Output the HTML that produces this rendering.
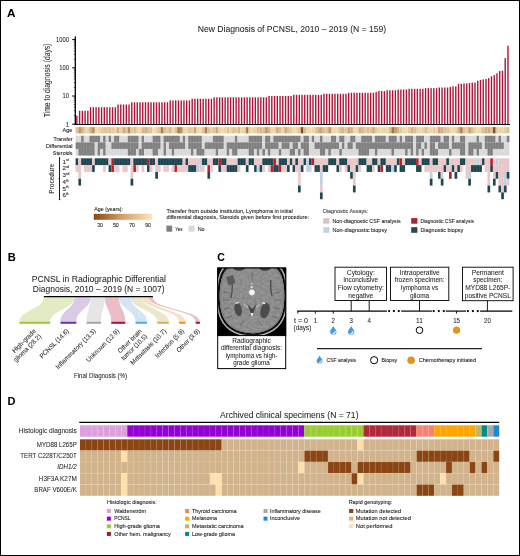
<!DOCTYPE html>
<html><head><meta charset="utf-8"><title>Figure</title>
<style>
html,body{margin:0;padding:0;background:#fff;}
body{width:520px;height:556px;overflow:hidden;}
.frame{position:absolute;left:0;top:0;width:518px;height:554px;border:1px solid #000;}
svg{position:absolute;left:0;top:0;font-family:"Liberation Sans", sans-serif;will-change:transform;}

</style></head><body>
<div class="frame"></div>
<svg width="520" height="556" viewBox="0 0 520 556" fill="#231f20">
<text x="6.9" y="16.9" font-size="10.8" textLength="8.5" lengthAdjust="spacingAndGlyphs" font-weight="bold" fill="#000" stroke="#000" stroke-width="0.06">A</text>
<text x="197.8" y="32" font-size="8.9" textLength="188.4" lengthAdjust="spacingAndGlyphs" stroke="#231f20" stroke-width="0.06">New Diagnosis of PCNSL, 2010 – 2019 (N = 159)</text>
<line x1="75.3" y1="36.4" x2="75.3" y2="124.9" stroke="#000" stroke-width="1.3"/>
<line x1="72.2" y1="124.2" x2="75.3" y2="124.2" stroke="#000" stroke-width="1"/>
<line x1="73.8" y1="115.71" x2="75.3" y2="115.71" stroke="#000" stroke-width="0.6"/>
<line x1="73.8" y1="110.75" x2="75.3" y2="110.75" stroke="#000" stroke-width="0.6"/>
<line x1="73.8" y1="107.22" x2="75.3" y2="107.22" stroke="#000" stroke-width="0.6"/>
<line x1="73.8" y1="104.49" x2="75.3" y2="104.49" stroke="#000" stroke-width="0.6"/>
<line x1="73.8" y1="102.26" x2="75.3" y2="102.26" stroke="#000" stroke-width="0.6"/>
<line x1="73.8" y1="100.37" x2="75.3" y2="100.37" stroke="#000" stroke-width="0.6"/>
<line x1="73.8" y1="98.73" x2="75.3" y2="98.73" stroke="#000" stroke-width="0.6"/>
<line x1="73.8" y1="97.29" x2="75.3" y2="97.29" stroke="#000" stroke-width="0.6"/>
<line x1="72.2" y1="96" x2="75.3" y2="96" stroke="#000" stroke-width="1"/>
<line x1="73.8" y1="87.51" x2="75.3" y2="87.51" stroke="#000" stroke-width="0.6"/>
<line x1="73.8" y1="82.55" x2="75.3" y2="82.55" stroke="#000" stroke-width="0.6"/>
<line x1="73.8" y1="79.02" x2="75.3" y2="79.02" stroke="#000" stroke-width="0.6"/>
<line x1="73.8" y1="76.29" x2="75.3" y2="76.29" stroke="#000" stroke-width="0.6"/>
<line x1="73.8" y1="74.06" x2="75.3" y2="74.06" stroke="#000" stroke-width="0.6"/>
<line x1="73.8" y1="72.17" x2="75.3" y2="72.17" stroke="#000" stroke-width="0.6"/>
<line x1="73.8" y1="70.53" x2="75.3" y2="70.53" stroke="#000" stroke-width="0.6"/>
<line x1="73.8" y1="69.09" x2="75.3" y2="69.09" stroke="#000" stroke-width="0.6"/>
<line x1="72.2" y1="67.8" x2="75.3" y2="67.8" stroke="#000" stroke-width="1"/>
<line x1="73.8" y1="59.31" x2="75.3" y2="59.31" stroke="#000" stroke-width="0.6"/>
<line x1="73.8" y1="54.35" x2="75.3" y2="54.35" stroke="#000" stroke-width="0.6"/>
<line x1="73.8" y1="50.82" x2="75.3" y2="50.82" stroke="#000" stroke-width="0.6"/>
<line x1="73.8" y1="48.09" x2="75.3" y2="48.09" stroke="#000" stroke-width="0.6"/>
<line x1="73.8" y1="45.86" x2="75.3" y2="45.86" stroke="#000" stroke-width="0.6"/>
<line x1="73.8" y1="43.97" x2="75.3" y2="43.97" stroke="#000" stroke-width="0.6"/>
<line x1="73.8" y1="42.33" x2="75.3" y2="42.33" stroke="#000" stroke-width="0.6"/>
<line x1="73.8" y1="40.89" x2="75.3" y2="40.89" stroke="#000" stroke-width="0.6"/>
<line x1="72.2" y1="39.6" x2="75.3" y2="39.6" stroke="#000" stroke-width="1"/>
<text x="68.9" y="126.5" font-size="6.6" text-anchor="end" textLength="3.2" lengthAdjust="spacingAndGlyphs" stroke="#231f20" stroke-width="0.06">1</text>
<text x="68.9" y="98.3" font-size="6.6" text-anchor="end" textLength="6.4" lengthAdjust="spacingAndGlyphs" stroke="#231f20" stroke-width="0.06">10</text>
<text x="68.9" y="70.1" font-size="6.6" text-anchor="end" textLength="9.7" lengthAdjust="spacingAndGlyphs" stroke="#231f20" stroke-width="0.06">100</text>
<text x="68.9" y="41.9" font-size="6.6" text-anchor="end" textLength="12.9" lengthAdjust="spacingAndGlyphs" stroke="#231f20" stroke-width="0.06">1000</text>
<text x="49.7" y="117.2" font-size="8.4" textLength="73.7" lengthAdjust="spacingAndGlyphs" stroke="#231f20" stroke-width="0.06" transform="rotate(-90 49.7 117.2)">Time to diagnosis (days)</text>
<rect x="76.15" y="115.71" width="1.4" height="8.49" fill="#ae1439"/>
<rect x="78.9" y="110.75" width="1.4" height="13.45" fill="#ae1439"/>
<rect x="81.64" y="110.75" width="1.4" height="13.45" fill="#ae1439"/>
<rect x="84.39" y="110.75" width="1.4" height="13.45" fill="#ae1439"/>
<rect x="87.13" y="110.75" width="1.4" height="13.45" fill="#ae1439"/>
<rect x="89.88" y="107.22" width="1.4" height="16.98" fill="#ae1439"/>
<rect x="92.63" y="107.22" width="1.4" height="16.98" fill="#ae1439"/>
<rect x="95.37" y="107.22" width="1.4" height="16.98" fill="#ae1439"/>
<rect x="98.12" y="107.22" width="1.4" height="16.98" fill="#ae1439"/>
<rect x="100.86" y="107.22" width="1.4" height="16.98" fill="#ae1439"/>
<rect x="103.61" y="107.22" width="1.4" height="16.98" fill="#ae1439"/>
<rect x="106.35" y="107.22" width="1.4" height="16.98" fill="#ae1439"/>
<rect x="109.1" y="107.22" width="1.4" height="16.98" fill="#ae1439"/>
<rect x="111.85" y="107.22" width="1.4" height="16.98" fill="#ae1439"/>
<rect x="114.59" y="107.22" width="1.4" height="16.98" fill="#ae1439"/>
<rect x="117.34" y="104.49" width="1.4" height="19.71" fill="#ae1439"/>
<rect x="120.08" y="104.49" width="1.4" height="19.71" fill="#ae1439"/>
<rect x="122.83" y="104.49" width="1.4" height="19.71" fill="#ae1439"/>
<rect x="125.58" y="104.49" width="1.4" height="19.71" fill="#ae1439"/>
<rect x="128.32" y="104.49" width="1.4" height="19.71" fill="#ae1439"/>
<rect x="131.07" y="102.26" width="1.4" height="21.94" fill="#ae1439"/>
<rect x="133.81" y="102.26" width="1.4" height="21.94" fill="#ae1439"/>
<rect x="136.56" y="102.26" width="1.4" height="21.94" fill="#ae1439"/>
<rect x="139.31" y="102.26" width="1.4" height="21.94" fill="#ae1439"/>
<rect x="142.05" y="102.26" width="1.4" height="21.94" fill="#ae1439"/>
<rect x="144.8" y="102.26" width="1.4" height="21.94" fill="#ae1439"/>
<rect x="147.54" y="102.26" width="1.4" height="21.94" fill="#ae1439"/>
<rect x="150.29" y="102.26" width="1.4" height="21.94" fill="#ae1439"/>
<rect x="153.04" y="102.26" width="1.4" height="21.94" fill="#ae1439"/>
<rect x="155.78" y="102.26" width="1.4" height="21.94" fill="#ae1439"/>
<rect x="158.53" y="102.26" width="1.4" height="21.94" fill="#ae1439"/>
<rect x="161.27" y="102.26" width="1.4" height="21.94" fill="#ae1439"/>
<rect x="164.02" y="102.26" width="1.4" height="21.94" fill="#ae1439"/>
<rect x="166.76" y="102.26" width="1.4" height="21.94" fill="#ae1439"/>
<rect x="169.51" y="100.37" width="1.4" height="23.83" fill="#ae1439"/>
<rect x="172.26" y="100.37" width="1.4" height="23.83" fill="#ae1439"/>
<rect x="175" y="100.37" width="1.4" height="23.83" fill="#ae1439"/>
<rect x="177.75" y="100.37" width="1.4" height="23.83" fill="#ae1439"/>
<rect x="180.49" y="100.37" width="1.4" height="23.83" fill="#ae1439"/>
<rect x="183.24" y="100.37" width="1.4" height="23.83" fill="#ae1439"/>
<rect x="185.99" y="100.37" width="1.4" height="23.83" fill="#ae1439"/>
<rect x="188.73" y="100.37" width="1.4" height="23.83" fill="#ae1439"/>
<rect x="191.48" y="98.73" width="1.4" height="25.47" fill="#ae1439"/>
<rect x="194.22" y="98.73" width="1.4" height="25.47" fill="#ae1439"/>
<rect x="196.97" y="98.73" width="1.4" height="25.47" fill="#ae1439"/>
<rect x="199.72" y="98.73" width="1.4" height="25.47" fill="#ae1439"/>
<rect x="202.46" y="98.73" width="1.4" height="25.47" fill="#ae1439"/>
<rect x="205.21" y="98.73" width="1.4" height="25.47" fill="#ae1439"/>
<rect x="207.95" y="98.73" width="1.4" height="25.47" fill="#ae1439"/>
<rect x="210.7" y="98.73" width="1.4" height="25.47" fill="#ae1439"/>
<rect x="213.44" y="97.29" width="1.4" height="26.91" fill="#ae1439"/>
<rect x="216.19" y="97.29" width="1.4" height="26.91" fill="#ae1439"/>
<rect x="218.94" y="97.29" width="1.4" height="26.91" fill="#ae1439"/>
<rect x="221.68" y="97.29" width="1.4" height="26.91" fill="#ae1439"/>
<rect x="224.43" y="97.29" width="1.4" height="26.91" fill="#ae1439"/>
<rect x="227.17" y="97.29" width="1.4" height="26.91" fill="#ae1439"/>
<rect x="229.92" y="97.29" width="1.4" height="26.91" fill="#ae1439"/>
<rect x="232.67" y="97.29" width="1.4" height="26.91" fill="#ae1439"/>
<rect x="235.41" y="97.29" width="1.4" height="26.91" fill="#ae1439"/>
<rect x="238.16" y="97.29" width="1.4" height="26.91" fill="#ae1439"/>
<rect x="240.9" y="97.29" width="1.4" height="26.91" fill="#ae1439"/>
<rect x="243.65" y="97.29" width="1.4" height="26.91" fill="#ae1439"/>
<rect x="246.4" y="97.29" width="1.4" height="26.91" fill="#ae1439"/>
<rect x="249.14" y="97.29" width="1.4" height="26.91" fill="#ae1439"/>
<rect x="251.89" y="97.29" width="1.4" height="26.91" fill="#ae1439"/>
<rect x="254.63" y="97.29" width="1.4" height="26.91" fill="#ae1439"/>
<rect x="257.38" y="97.29" width="1.4" height="26.91" fill="#ae1439"/>
<rect x="260.13" y="97.29" width="1.4" height="26.91" fill="#ae1439"/>
<rect x="262.87" y="97.29" width="1.4" height="26.91" fill="#ae1439"/>
<rect x="265.62" y="97.29" width="1.4" height="26.91" fill="#ae1439"/>
<rect x="268.36" y="96" width="1.4" height="28.2" fill="#ae1439"/>
<rect x="271.11" y="96" width="1.4" height="28.2" fill="#ae1439"/>
<rect x="273.85" y="96" width="1.4" height="28.2" fill="#ae1439"/>
<rect x="276.6" y="96" width="1.4" height="28.2" fill="#ae1439"/>
<rect x="279.35" y="96" width="1.4" height="28.2" fill="#ae1439"/>
<rect x="282.09" y="96" width="1.4" height="28.2" fill="#ae1439"/>
<rect x="284.84" y="96" width="1.4" height="28.2" fill="#ae1439"/>
<rect x="287.58" y="96" width="1.4" height="28.2" fill="#ae1439"/>
<rect x="290.33" y="96" width="1.4" height="28.2" fill="#ae1439"/>
<rect x="293.08" y="94.83" width="1.4" height="29.37" fill="#ae1439"/>
<rect x="295.82" y="94.83" width="1.4" height="29.37" fill="#ae1439"/>
<rect x="298.57" y="94.83" width="1.4" height="29.37" fill="#ae1439"/>
<rect x="301.31" y="94.83" width="1.4" height="29.37" fill="#ae1439"/>
<rect x="304.06" y="94.83" width="1.4" height="29.37" fill="#ae1439"/>
<rect x="306.81" y="94.83" width="1.4" height="29.37" fill="#ae1439"/>
<rect x="309.55" y="94.83" width="1.4" height="29.37" fill="#ae1439"/>
<rect x="312.3" y="94.83" width="1.4" height="29.37" fill="#ae1439"/>
<rect x="315.04" y="94.83" width="1.4" height="29.37" fill="#ae1439"/>
<rect x="317.79" y="94.83" width="1.4" height="29.37" fill="#ae1439"/>
<rect x="320.54" y="94.83" width="1.4" height="29.37" fill="#ae1439"/>
<rect x="323.28" y="93.77" width="1.4" height="30.43" fill="#ae1439"/>
<rect x="326.03" y="93.77" width="1.4" height="30.43" fill="#ae1439"/>
<rect x="328.77" y="93.77" width="1.4" height="30.43" fill="#ae1439"/>
<rect x="331.52" y="93.77" width="1.4" height="30.43" fill="#ae1439"/>
<rect x="334.26" y="93.77" width="1.4" height="30.43" fill="#ae1439"/>
<rect x="337.01" y="93.77" width="1.4" height="30.43" fill="#ae1439"/>
<rect x="339.76" y="93.77" width="1.4" height="30.43" fill="#ae1439"/>
<rect x="342.5" y="93.77" width="1.4" height="30.43" fill="#ae1439"/>
<rect x="345.25" y="93.77" width="1.4" height="30.43" fill="#ae1439"/>
<rect x="347.99" y="92.79" width="1.4" height="31.41" fill="#ae1439"/>
<rect x="350.74" y="92.79" width="1.4" height="31.41" fill="#ae1439"/>
<rect x="353.49" y="92.79" width="1.4" height="31.41" fill="#ae1439"/>
<rect x="356.23" y="92.79" width="1.4" height="31.41" fill="#ae1439"/>
<rect x="358.98" y="92.79" width="1.4" height="31.41" fill="#ae1439"/>
<rect x="361.72" y="92.79" width="1.4" height="31.41" fill="#ae1439"/>
<rect x="364.47" y="92.79" width="1.4" height="31.41" fill="#ae1439"/>
<rect x="367.22" y="92.79" width="1.4" height="31.41" fill="#ae1439"/>
<rect x="369.96" y="92.79" width="1.4" height="31.41" fill="#ae1439"/>
<rect x="372.71" y="92.79" width="1.4" height="31.41" fill="#ae1439"/>
<rect x="375.45" y="91.88" width="1.4" height="32.32" fill="#ae1439"/>
<rect x="378.2" y="91.03" width="1.4" height="33.17" fill="#ae1439"/>
<rect x="380.94" y="91.03" width="1.4" height="33.17" fill="#ae1439"/>
<rect x="383.69" y="91.03" width="1.4" height="33.17" fill="#ae1439"/>
<rect x="386.44" y="90.24" width="1.4" height="33.96" fill="#ae1439"/>
<rect x="389.18" y="90.24" width="1.4" height="33.96" fill="#ae1439"/>
<rect x="391.93" y="90.24" width="1.4" height="33.96" fill="#ae1439"/>
<rect x="394.67" y="90.24" width="1.4" height="33.96" fill="#ae1439"/>
<rect x="397.42" y="89.5" width="1.4" height="34.7" fill="#ae1439"/>
<rect x="400.17" y="89.5" width="1.4" height="34.7" fill="#ae1439"/>
<rect x="402.91" y="89.5" width="1.4" height="34.7" fill="#ae1439"/>
<rect x="405.66" y="89.5" width="1.4" height="34.7" fill="#ae1439"/>
<rect x="408.4" y="88.8" width="1.4" height="35.4" fill="#ae1439"/>
<rect x="411.15" y="88.8" width="1.4" height="35.4" fill="#ae1439"/>
<rect x="413.9" y="88.8" width="1.4" height="35.4" fill="#ae1439"/>
<rect x="416.64" y="88.8" width="1.4" height="35.4" fill="#ae1439"/>
<rect x="419.39" y="88.8" width="1.4" height="35.4" fill="#ae1439"/>
<rect x="422.13" y="88.8" width="1.4" height="35.4" fill="#ae1439"/>
<rect x="424.88" y="88.14" width="1.4" height="36.06" fill="#ae1439"/>
<rect x="427.63" y="88.14" width="1.4" height="36.06" fill="#ae1439"/>
<rect x="430.37" y="88.14" width="1.4" height="36.06" fill="#ae1439"/>
<rect x="433.12" y="88.14" width="1.4" height="36.06" fill="#ae1439"/>
<rect x="435.86" y="88.14" width="1.4" height="36.06" fill="#ae1439"/>
<rect x="438.61" y="87.51" width="1.4" height="36.69" fill="#ae1439"/>
<rect x="441.35" y="87.51" width="1.4" height="36.69" fill="#ae1439"/>
<rect x="444.1" y="87.51" width="1.4" height="36.69" fill="#ae1439"/>
<rect x="446.85" y="87.51" width="1.4" height="36.69" fill="#ae1439"/>
<rect x="449.59" y="86.91" width="1.4" height="37.29" fill="#ae1439"/>
<rect x="452.34" y="86.34" width="1.4" height="37.86" fill="#ae1439"/>
<rect x="455.08" y="86.34" width="1.4" height="37.86" fill="#ae1439"/>
<rect x="457.83" y="83.84" width="1.4" height="40.36" fill="#ae1439"/>
<rect x="460.58" y="83.84" width="1.4" height="40.36" fill="#ae1439"/>
<rect x="463.32" y="83.39" width="1.4" height="40.81" fill="#ae1439"/>
<rect x="466.07" y="83.39" width="1.4" height="40.81" fill="#ae1439"/>
<rect x="468.81" y="82.96" width="1.4" height="41.24" fill="#ae1439"/>
<rect x="471.56" y="82.55" width="1.4" height="41.65" fill="#ae1439"/>
<rect x="474.31" y="82.55" width="1.4" height="41.65" fill="#ae1439"/>
<rect x="477.05" y="80.66" width="1.4" height="43.54" fill="#ae1439"/>
<rect x="479.8" y="79.98" width="1.4" height="44.22" fill="#ae1439"/>
<rect x="482.54" y="79.33" width="1.4" height="44.87" fill="#ae1439"/>
<rect x="485.29" y="79.02" width="1.4" height="45.18" fill="#ae1439"/>
<rect x="488.04" y="78.14" width="1.4" height="46.06" fill="#ae1439"/>
<rect x="490.78" y="76.29" width="1.4" height="47.91" fill="#ae1439"/>
<rect x="493.53" y="75.12" width="1.4" height="49.08" fill="#ae1439"/>
<rect x="496.27" y="73.27" width="1.4" height="50.93" fill="#ae1439"/>
<rect x="499.02" y="71" width="1.4" height="53.2" fill="#ae1439"/>
<rect x="501.76" y="70.69" width="1.4" height="53.51" fill="#ae1439"/>
<rect x="504.51" y="58.14" width="1.4" height="66.06" fill="#ae1439"/>
<rect x="507.26" y="45.71" width="1.4" height="78.49" fill="#ae1439"/>
<line x1="74.6" y1="124.45" x2="510" y2="124.45" stroke="#000" stroke-width="1.1"/>
<rect x="75.6" y="127.1" width="2.8" height="6.3" fill="#e4c090"/>
<rect x="78.35" y="127.1" width="2.8" height="6.3" fill="#c89458"/>
<rect x="81.09" y="127.1" width="2.8" height="6.3" fill="#d8ac7c"/>
<rect x="83.84" y="127.1" width="2.8" height="6.3" fill="#ecd0a0"/>
<rect x="86.58" y="127.1" width="2.8" height="6.3" fill="#ecd0a0"/>
<rect x="89.33" y="127.1" width="2.8" height="6.3" fill="#d8ac7c"/>
<rect x="92.07" y="127.1" width="2.8" height="6.3" fill="#c08850"/>
<rect x="94.82" y="127.1" width="2.8" height="6.3" fill="#f4d8a8"/>
<rect x="97.56" y="127.1" width="2.8" height="6.3" fill="#f0d4a4"/>
<rect x="100.31" y="127.1" width="2.8" height="6.3" fill="#e8c898"/>
<rect x="103.06" y="127.1" width="2.8" height="6.3" fill="#e4c090"/>
<rect x="105.8" y="127.1" width="2.8" height="6.3" fill="#e4c090"/>
<rect x="108.55" y="127.1" width="2.8" height="6.3" fill="#e0bc8c"/>
<rect x="111.29" y="127.1" width="2.8" height="6.3" fill="#e8c898"/>
<rect x="114.04" y="127.1" width="2.8" height="6.3" fill="#ecd0a0"/>
<rect x="116.78" y="127.1" width="2.8" height="6.3" fill="#d8ac7c"/>
<rect x="119.53" y="127.1" width="2.8" height="6.3" fill="#ecd0a0"/>
<rect x="122.28" y="127.1" width="2.8" height="6.3" fill="#d4a878"/>
<rect x="125.02" y="127.1" width="2.8" height="6.3" fill="#e4c090"/>
<rect x="127.77" y="127.1" width="2.8" height="6.3" fill="#c08850"/>
<rect x="130.51" y="127.1" width="2.8" height="6.3" fill="#e8c898"/>
<rect x="133.26" y="127.1" width="2.8" height="6.3" fill="#e0bc8c"/>
<rect x="136" y="127.1" width="2.8" height="6.3" fill="#ecd0a0"/>
<rect x="138.75" y="127.1" width="2.8" height="6.3" fill="#f4d8a8"/>
<rect x="141.49" y="127.1" width="2.8" height="6.3" fill="#dcb484"/>
<rect x="144.24" y="127.1" width="2.8" height="6.3" fill="#d8ac7c"/>
<rect x="146.99" y="127.1" width="2.8" height="6.3" fill="#e0bc8c"/>
<rect x="149.73" y="127.1" width="2.8" height="6.3" fill="#e4c090"/>
<rect x="152.48" y="127.1" width="2.8" height="6.3" fill="#f8dcb0"/>
<rect x="155.22" y="127.1" width="2.8" height="6.3" fill="#ecd0a0"/>
<rect x="157.97" y="127.1" width="2.8" height="6.3" fill="#e4c090"/>
<rect x="160.71" y="127.1" width="2.8" height="6.3" fill="#b87840"/>
<rect x="163.46" y="127.1" width="2.8" height="6.3" fill="#e0bc8c"/>
<rect x="166.2" y="127.1" width="2.8" height="6.3" fill="#e8c898"/>
<rect x="168.95" y="127.1" width="2.8" height="6.3" fill="#dcb484"/>
<rect x="171.7" y="127.1" width="2.8" height="6.3" fill="#f0d4a4"/>
<rect x="174.44" y="127.1" width="2.8" height="6.3" fill="#e0bc8c"/>
<rect x="177.19" y="127.1" width="2.8" height="6.3" fill="#b87840"/>
<rect x="179.93" y="127.1" width="2.8" height="6.3" fill="#c08850"/>
<rect x="182.68" y="127.1" width="2.8" height="6.3" fill="#ecd0a0"/>
<rect x="185.42" y="127.1" width="2.8" height="6.3" fill="#f0d4a4"/>
<rect x="188.17" y="127.1" width="2.8" height="6.3" fill="#e4c090"/>
<rect x="190.92" y="127.1" width="2.8" height="6.3" fill="#ecd0a0"/>
<rect x="193.66" y="127.1" width="2.8" height="6.3" fill="#d0a070"/>
<rect x="196.41" y="127.1" width="2.8" height="6.3" fill="#f0d4a4"/>
<rect x="199.15" y="127.1" width="2.8" height="6.3" fill="#f4d8a8"/>
<rect x="201.9" y="127.1" width="2.8" height="6.3" fill="#e4c090"/>
<rect x="204.64" y="127.1" width="2.8" height="6.3" fill="#b87840"/>
<rect x="207.39" y="127.1" width="2.8" height="6.3" fill="#e0bc8c"/>
<rect x="210.13" y="127.1" width="2.8" height="6.3" fill="#ecd0a0"/>
<rect x="212.88" y="127.1" width="2.8" height="6.3" fill="#e4c090"/>
<rect x="215.63" y="127.1" width="2.8" height="6.3" fill="#d4a878"/>
<rect x="218.37" y="127.1" width="2.8" height="6.3" fill="#ecd0a0"/>
<rect x="221.12" y="127.1" width="2.8" height="6.3" fill="#f4d8a8"/>
<rect x="223.86" y="127.1" width="2.8" height="6.3" fill="#f0d4a4"/>
<rect x="226.61" y="127.1" width="2.8" height="6.3" fill="#e4c090"/>
<rect x="229.35" y="127.1" width="2.8" height="6.3" fill="#ecd0a0"/>
<rect x="232.1" y="127.1" width="2.8" height="6.3" fill="#e0bc8c"/>
<rect x="234.84" y="127.1" width="2.8" height="6.3" fill="#e8c898"/>
<rect x="237.59" y="127.1" width="2.8" height="6.3" fill="#dcb484"/>
<rect x="240.34" y="127.1" width="2.8" height="6.3" fill="#f0d4a4"/>
<rect x="243.08" y="127.1" width="2.8" height="6.3" fill="#ecd0a0"/>
<rect x="245.83" y="127.1" width="2.8" height="6.3" fill="#b87840"/>
<rect x="248.57" y="127.1" width="2.8" height="6.3" fill="#ecd0a0"/>
<rect x="251.32" y="127.1" width="2.8" height="6.3" fill="#f0d4a4"/>
<rect x="254.06" y="127.1" width="2.8" height="6.3" fill="#ecd0a0"/>
<rect x="256.81" y="127.1" width="2.8" height="6.3" fill="#e0bc8c"/>
<rect x="259.56" y="127.1" width="2.8" height="6.3" fill="#dcb484"/>
<rect x="262.3" y="127.1" width="2.8" height="6.3" fill="#e0bc8c"/>
<rect x="265.05" y="127.1" width="2.8" height="6.3" fill="#c89458"/>
<rect x="267.79" y="127.1" width="2.8" height="6.3" fill="#d8ac7c"/>
<rect x="270.54" y="127.1" width="2.8" height="6.3" fill="#f0d4a4"/>
<rect x="273.28" y="127.1" width="2.8" height="6.3" fill="#ecd0a0"/>
<rect x="276.03" y="127.1" width="2.8" height="6.3" fill="#d4a878"/>
<rect x="278.77" y="127.1" width="2.8" height="6.3" fill="#e0bc8c"/>
<rect x="281.52" y="127.1" width="2.8" height="6.3" fill="#ecd0a0"/>
<rect x="284.27" y="127.1" width="2.8" height="6.3" fill="#d4a878"/>
<rect x="287.01" y="127.1" width="2.8" height="6.3" fill="#e0bc8c"/>
<rect x="289.76" y="127.1" width="2.8" height="6.3" fill="#e8c898"/>
<rect x="292.5" y="127.1" width="2.8" height="6.3" fill="#f4d8a8"/>
<rect x="295.25" y="127.1" width="2.8" height="6.3" fill="#f0d4a4"/>
<rect x="297.99" y="127.1" width="2.8" height="6.3" fill="#e8c898"/>
<rect x="300.74" y="127.1" width="2.8" height="6.3" fill="#8c4a1c"/>
<rect x="303.48" y="127.1" width="2.8" height="6.3" fill="#e0bc8c"/>
<rect x="306.23" y="127.1" width="2.8" height="6.3" fill="#f0d4a4"/>
<rect x="308.98" y="127.1" width="2.8" height="6.3" fill="#f4d8a8"/>
<rect x="311.72" y="127.1" width="2.8" height="6.3" fill="#f0d4a4"/>
<rect x="314.47" y="127.1" width="2.8" height="6.3" fill="#e4c090"/>
<rect x="317.21" y="127.1" width="2.8" height="6.3" fill="#d8ac7c"/>
<rect x="319.96" y="127.1" width="2.8" height="6.3" fill="#d0a070"/>
<rect x="322.7" y="127.1" width="2.8" height="6.3" fill="#e0bc8c"/>
<rect x="325.45" y="127.1" width="2.8" height="6.3" fill="#e4c090"/>
<rect x="328.2" y="127.1" width="2.8" height="6.3" fill="#c89458"/>
<rect x="330.94" y="127.1" width="2.8" height="6.3" fill="#ecd0a0"/>
<rect x="333.69" y="127.1" width="2.8" height="6.3" fill="#f4d8a8"/>
<rect x="336.43" y="127.1" width="2.8" height="6.3" fill="#f0d4a4"/>
<rect x="339.18" y="127.1" width="2.8" height="6.3" fill="#e0bc8c"/>
<rect x="341.92" y="127.1" width="2.8" height="6.3" fill="#dcb484"/>
<rect x="344.67" y="127.1" width="2.8" height="6.3" fill="#e8c898"/>
<rect x="347.41" y="127.1" width="2.8" height="6.3" fill="#d0a070"/>
<rect x="350.16" y="127.1" width="2.8" height="6.3" fill="#d8ac7c"/>
<rect x="352.91" y="127.1" width="2.8" height="6.3" fill="#f0d4a4"/>
<rect x="355.65" y="127.1" width="2.8" height="6.3" fill="#f4d8a8"/>
<rect x="358.4" y="127.1" width="2.8" height="6.3" fill="#d8ac7c"/>
<rect x="361.14" y="127.1" width="2.8" height="6.3" fill="#dcb484"/>
<rect x="363.89" y="127.1" width="2.8" height="6.3" fill="#e8c898"/>
<rect x="366.63" y="127.1" width="2.8" height="6.3" fill="#e0bc8c"/>
<rect x="369.38" y="127.1" width="2.8" height="6.3" fill="#e4c090"/>
<rect x="372.12" y="127.1" width="2.8" height="6.3" fill="#d4a878"/>
<rect x="374.87" y="127.1" width="2.8" height="6.3" fill="#e8c898"/>
<rect x="377.62" y="127.1" width="2.8" height="6.3" fill="#f0d4a4"/>
<rect x="380.36" y="127.1" width="2.8" height="6.3" fill="#f4d8a8"/>
<rect x="383.11" y="127.1" width="2.8" height="6.3" fill="#ecd0a0"/>
<rect x="385.85" y="127.1" width="2.8" height="6.3" fill="#f0d4a4"/>
<rect x="388.6" y="127.1" width="2.8" height="6.3" fill="#e0bc8c"/>
<rect x="391.34" y="127.1" width="2.8" height="6.3" fill="#b07038"/>
<rect x="394.09" y="127.1" width="2.8" height="6.3" fill="#c89458"/>
<rect x="396.84" y="127.1" width="2.8" height="6.3" fill="#d8ac7c"/>
<rect x="399.58" y="127.1" width="2.8" height="6.3" fill="#e8c898"/>
<rect x="402.33" y="127.1" width="2.8" height="6.3" fill="#f0d4a4"/>
<rect x="405.07" y="127.1" width="2.8" height="6.3" fill="#f4d8a8"/>
<rect x="407.82" y="127.1" width="2.8" height="6.3" fill="#e8c898"/>
<rect x="410.56" y="127.1" width="2.8" height="6.3" fill="#d8ac7c"/>
<rect x="413.31" y="127.1" width="2.8" height="6.3" fill="#e0bc8c"/>
<rect x="416.05" y="127.1" width="2.8" height="6.3" fill="#ecd0a0"/>
<rect x="418.8" y="127.1" width="2.8" height="6.3" fill="#f0d4a4"/>
<rect x="421.55" y="127.1" width="2.8" height="6.3" fill="#ecd0a0"/>
<rect x="424.29" y="127.1" width="2.8" height="6.3" fill="#e0bc8c"/>
<rect x="427.04" y="127.1" width="2.8" height="6.3" fill="#ecd0a0"/>
<rect x="429.78" y="127.1" width="2.8" height="6.3" fill="#f0d4a4"/>
<rect x="432.53" y="127.1" width="2.8" height="6.3" fill="#e8c898"/>
<rect x="435.27" y="127.1" width="2.8" height="6.3" fill="#ecd0a0"/>
<rect x="438.02" y="127.1" width="2.8" height="6.3" fill="#d0a070"/>
<rect x="440.76" y="127.1" width="2.8" height="6.3" fill="#d8ac7c"/>
<rect x="443.51" y="127.1" width="2.8" height="6.3" fill="#e0bc8c"/>
<rect x="446.26" y="127.1" width="2.8" height="6.3" fill="#e4c090"/>
<rect x="449" y="127.1" width="2.8" height="6.3" fill="#f0d4a4"/>
<rect x="451.75" y="127.1" width="2.8" height="6.3" fill="#f4d8a8"/>
<rect x="454.49" y="127.1" width="2.8" height="6.3" fill="#ecd0a0"/>
<rect x="457.24" y="127.1" width="2.8" height="6.3" fill="#d8ac7c"/>
<rect x="459.98" y="127.1" width="2.8" height="6.3" fill="#b87840"/>
<rect x="462.73" y="127.1" width="2.8" height="6.3" fill="#e0bc8c"/>
<rect x="465.48" y="127.1" width="2.8" height="6.3" fill="#e8c898"/>
<rect x="468.22" y="127.1" width="2.8" height="6.3" fill="#d0a070"/>
<rect x="470.97" y="127.1" width="2.8" height="6.3" fill="#e0bc8c"/>
<rect x="473.71" y="127.1" width="2.8" height="6.3" fill="#ecd0a0"/>
<rect x="476.46" y="127.1" width="2.8" height="6.3" fill="#f4d8a8"/>
<rect x="479.2" y="127.1" width="2.8" height="6.3" fill="#f0d4a4"/>
<rect x="481.95" y="127.1" width="2.8" height="6.3" fill="#e0bc8c"/>
<rect x="484.69" y="127.1" width="2.8" height="6.3" fill="#d8ac7c"/>
<rect x="487.44" y="127.1" width="2.8" height="6.3" fill="#d4a878"/>
<rect x="490.19" y="127.1" width="2.8" height="6.3" fill="#e0bc8c"/>
<rect x="492.93" y="127.1" width="2.8" height="6.3" fill="#8c4a1c"/>
<rect x="495.68" y="127.1" width="2.8" height="6.3" fill="#e8c898"/>
<rect x="498.42" y="127.1" width="2.8" height="6.3" fill="#ecd0a0"/>
<rect x="501.17" y="127.1" width="2.8" height="6.3" fill="#f0d4a4"/>
<rect x="503.91" y="127.1" width="2.8" height="6.3" fill="#e8c898"/>
<rect x="506.66" y="127.1" width="2.8" height="6.3" fill="#e0bc8c"/>
<rect x="75.6" y="135.7" width="5.49" height="6.63" fill="#d9d9d9"/>
<rect x="81.09" y="135.7" width="2.75" height="6.63" fill="#7f7f7f"/>
<rect x="83.84" y="135.7" width="5.49" height="6.63" fill="#d9d9d9"/>
<rect x="89.33" y="135.7" width="10.98" height="6.63" fill="#7f7f7f"/>
<rect x="100.31" y="135.7" width="2.75" height="6.63" fill="#d9d9d9"/>
<rect x="103.06" y="135.7" width="2.75" height="6.63" fill="#7f7f7f"/>
<rect x="105.8" y="135.7" width="2.75" height="6.63" fill="#d9d9d9"/>
<rect x="108.55" y="135.7" width="2.75" height="6.63" fill="#7f7f7f"/>
<rect x="111.29" y="135.7" width="2.75" height="6.63" fill="#d9d9d9"/>
<rect x="114.04" y="135.7" width="5.49" height="6.63" fill="#7f7f7f"/>
<rect x="119.53" y="135.7" width="8.24" height="6.63" fill="#d9d9d9"/>
<rect x="127.77" y="135.7" width="10.98" height="6.63" fill="#7f7f7f"/>
<rect x="138.75" y="135.7" width="2.75" height="6.63" fill="#d9d9d9"/>
<rect x="141.49" y="135.7" width="2.75" height="6.63" fill="#7f7f7f"/>
<rect x="144.24" y="135.7" width="8.24" height="6.63" fill="#d9d9d9"/>
<rect x="152.48" y="135.7" width="8.24" height="6.63" fill="#7f7f7f"/>
<rect x="160.71" y="135.7" width="2.75" height="6.63" fill="#d9d9d9"/>
<rect x="163.46" y="135.7" width="16.47" height="6.63" fill="#7f7f7f"/>
<rect x="179.93" y="135.7" width="2.75" height="6.63" fill="#d9d9d9"/>
<rect x="182.68" y="135.7" width="2.75" height="6.63" fill="#7f7f7f"/>
<rect x="185.42" y="135.7" width="2.75" height="6.63" fill="#d9d9d9"/>
<rect x="188.17" y="135.7" width="13.73" height="6.63" fill="#7f7f7f"/>
<rect x="201.9" y="135.7" width="10.98" height="6.63" fill="#d9d9d9"/>
<rect x="212.88" y="135.7" width="10.98" height="6.63" fill="#7f7f7f"/>
<rect x="223.86" y="135.7" width="10.98" height="6.63" fill="#d9d9d9"/>
<rect x="234.84" y="135.7" width="2.75" height="6.63" fill="#7f7f7f"/>
<rect x="237.59" y="135.7" width="10.98" height="6.63" fill="#d9d9d9"/>
<rect x="248.57" y="135.7" width="13.73" height="6.63" fill="#7f7f7f"/>
<rect x="262.3" y="135.7" width="2.75" height="6.63" fill="#d9d9d9"/>
<rect x="265.05" y="135.7" width="5.49" height="6.63" fill="#7f7f7f"/>
<rect x="270.54" y="135.7" width="2.75" height="6.63" fill="#d9d9d9"/>
<rect x="273.28" y="135.7" width="27.46" height="6.63" fill="#7f7f7f"/>
<rect x="300.74" y="135.7" width="2.75" height="6.63" fill="#d9d9d9"/>
<rect x="303.48" y="135.7" width="5.49" height="6.63" fill="#7f7f7f"/>
<rect x="308.98" y="135.7" width="2.75" height="6.63" fill="#d9d9d9"/>
<rect x="311.72" y="135.7" width="2.75" height="6.63" fill="#7f7f7f"/>
<rect x="314.47" y="135.7" width="5.49" height="6.63" fill="#d9d9d9"/>
<rect x="319.96" y="135.7" width="2.75" height="6.63" fill="#7f7f7f"/>
<rect x="322.7" y="135.7" width="8.24" height="6.63" fill="#d9d9d9"/>
<rect x="330.94" y="135.7" width="5.49" height="6.63" fill="#7f7f7f"/>
<rect x="336.43" y="135.7" width="2.75" height="6.63" fill="#d9d9d9"/>
<rect x="339.18" y="135.7" width="5.49" height="6.63" fill="#7f7f7f"/>
<rect x="344.67" y="135.7" width="5.49" height="6.63" fill="#d9d9d9"/>
<rect x="350.16" y="135.7" width="5.49" height="6.63" fill="#7f7f7f"/>
<rect x="355.65" y="135.7" width="5.49" height="6.63" fill="#d9d9d9"/>
<rect x="361.14" y="135.7" width="10.98" height="6.63" fill="#7f7f7f"/>
<rect x="372.12" y="135.7" width="2.75" height="6.63" fill="#d9d9d9"/>
<rect x="374.87" y="135.7" width="10.98" height="6.63" fill="#7f7f7f"/>
<rect x="385.85" y="135.7" width="2.75" height="6.63" fill="#d9d9d9"/>
<rect x="388.6" y="135.7" width="8.24" height="6.63" fill="#7f7f7f"/>
<rect x="396.84" y="135.7" width="2.75" height="6.63" fill="#d9d9d9"/>
<rect x="399.58" y="135.7" width="2.75" height="6.63" fill="#7f7f7f"/>
<rect x="402.33" y="135.7" width="2.75" height="6.63" fill="#d9d9d9"/>
<rect x="405.07" y="135.7" width="8.24" height="6.63" fill="#7f7f7f"/>
<rect x="413.31" y="135.7" width="2.75" height="6.63" fill="#d9d9d9"/>
<rect x="416.05" y="135.7" width="8.24" height="6.63" fill="#7f7f7f"/>
<rect x="424.29" y="135.7" width="5.49" height="6.63" fill="#d9d9d9"/>
<rect x="429.78" y="135.7" width="10.98" height="6.63" fill="#7f7f7f"/>
<rect x="440.76" y="135.7" width="2.75" height="6.63" fill="#d9d9d9"/>
<rect x="443.51" y="135.7" width="5.49" height="6.63" fill="#7f7f7f"/>
<rect x="449" y="135.7" width="2.75" height="6.63" fill="#d9d9d9"/>
<rect x="451.75" y="135.7" width="2.75" height="6.63" fill="#7f7f7f"/>
<rect x="454.49" y="135.7" width="5.49" height="6.63" fill="#d9d9d9"/>
<rect x="459.98" y="135.7" width="5.49" height="6.63" fill="#7f7f7f"/>
<rect x="465.48" y="135.7" width="10.98" height="6.63" fill="#d9d9d9"/>
<rect x="476.46" y="135.7" width="2.75" height="6.63" fill="#7f7f7f"/>
<rect x="479.2" y="135.7" width="5.49" height="6.63" fill="#d9d9d9"/>
<rect x="484.69" y="135.7" width="10.98" height="6.63" fill="#7f7f7f"/>
<rect x="495.68" y="135.7" width="2.75" height="6.63" fill="#d9d9d9"/>
<rect x="498.42" y="135.7" width="2.75" height="6.63" fill="#7f7f7f"/>
<rect x="501.17" y="135.7" width="5.49" height="6.63" fill="#d9d9d9"/>
<rect x="506.66" y="135.7" width="2.75" height="6.63" fill="#7f7f7f"/>
<rect x="75.6" y="142.33" width="19.22" height="6.63" fill="#7f7f7f"/>
<rect x="94.82" y="142.33" width="2.75" height="6.63" fill="#d9d9d9"/>
<rect x="97.56" y="142.33" width="8.24" height="6.63" fill="#7f7f7f"/>
<rect x="105.8" y="142.33" width="5.49" height="6.63" fill="#d9d9d9"/>
<rect x="111.29" y="142.33" width="27.46" height="6.63" fill="#7f7f7f"/>
<rect x="138.75" y="142.33" width="2.75" height="6.63" fill="#d9d9d9"/>
<rect x="141.49" y="142.33" width="19.22" height="6.63" fill="#7f7f7f"/>
<rect x="160.71" y="142.33" width="2.75" height="6.63" fill="#d9d9d9"/>
<rect x="163.46" y="142.33" width="2.75" height="6.63" fill="#7f7f7f"/>
<rect x="166.2" y="142.33" width="2.75" height="6.63" fill="#d9d9d9"/>
<rect x="168.95" y="142.33" width="16.47" height="6.63" fill="#7f7f7f"/>
<rect x="185.42" y="142.33" width="2.75" height="6.63" fill="#d9d9d9"/>
<rect x="188.17" y="142.33" width="13.73" height="6.63" fill="#7f7f7f"/>
<rect x="201.9" y="142.33" width="2.75" height="6.63" fill="#d9d9d9"/>
<rect x="204.64" y="142.33" width="19.22" height="6.63" fill="#7f7f7f"/>
<rect x="223.86" y="142.33" width="2.75" height="6.63" fill="#d9d9d9"/>
<rect x="226.61" y="142.33" width="35.69" height="6.63" fill="#7f7f7f"/>
<rect x="262.3" y="142.33" width="2.75" height="6.63" fill="#d9d9d9"/>
<rect x="265.05" y="142.33" width="13.73" height="6.63" fill="#7f7f7f"/>
<rect x="278.77" y="142.33" width="2.75" height="6.63" fill="#d9d9d9"/>
<rect x="281.52" y="142.33" width="8.24" height="6.63" fill="#7f7f7f"/>
<rect x="289.76" y="142.33" width="2.75" height="6.63" fill="#d9d9d9"/>
<rect x="292.5" y="142.33" width="5.49" height="6.63" fill="#7f7f7f"/>
<rect x="297.99" y="142.33" width="2.75" height="6.63" fill="#d9d9d9"/>
<rect x="300.74" y="142.33" width="8.24" height="6.63" fill="#7f7f7f"/>
<rect x="308.98" y="142.33" width="5.49" height="6.63" fill="#d9d9d9"/>
<rect x="314.47" y="142.33" width="24.71" height="6.63" fill="#7f7f7f"/>
<rect x="339.18" y="142.33" width="2.75" height="6.63" fill="#d9d9d9"/>
<rect x="341.92" y="142.33" width="2.75" height="6.63" fill="#7f7f7f"/>
<rect x="344.67" y="142.33" width="2.75" height="6.63" fill="#d9d9d9"/>
<rect x="347.41" y="142.33" width="5.49" height="6.63" fill="#7f7f7f"/>
<rect x="352.91" y="142.33" width="2.75" height="6.63" fill="#d9d9d9"/>
<rect x="355.65" y="142.33" width="57.66" height="6.63" fill="#7f7f7f"/>
<rect x="413.31" y="142.33" width="2.75" height="6.63" fill="#d9d9d9"/>
<rect x="416.05" y="142.33" width="5.49" height="6.63" fill="#7f7f7f"/>
<rect x="421.55" y="142.33" width="2.75" height="6.63" fill="#d9d9d9"/>
<rect x="424.29" y="142.33" width="2.75" height="6.63" fill="#7f7f7f"/>
<rect x="427.04" y="142.33" width="2.75" height="6.63" fill="#d9d9d9"/>
<rect x="429.78" y="142.33" width="5.49" height="6.63" fill="#7f7f7f"/>
<rect x="435.27" y="142.33" width="2.75" height="6.63" fill="#d9d9d9"/>
<rect x="438.02" y="142.33" width="10.98" height="6.63" fill="#7f7f7f"/>
<rect x="449" y="142.33" width="2.75" height="6.63" fill="#d9d9d9"/>
<rect x="451.75" y="142.33" width="13.73" height="6.63" fill="#7f7f7f"/>
<rect x="465.48" y="142.33" width="2.75" height="6.63" fill="#d9d9d9"/>
<rect x="468.22" y="142.33" width="13.73" height="6.63" fill="#7f7f7f"/>
<rect x="481.95" y="142.33" width="2.75" height="6.63" fill="#d9d9d9"/>
<rect x="484.69" y="142.33" width="19.22" height="6.63" fill="#7f7f7f"/>
<rect x="503.91" y="142.33" width="5.49" height="6.63" fill="#d9d9d9"/>
<rect x="75.6" y="148.96" width="2.75" height="6.63" fill="#d9d9d9"/>
<rect x="78.35" y="148.96" width="16.47" height="6.63" fill="#7f7f7f"/>
<rect x="94.82" y="148.96" width="2.75" height="6.63" fill="#d9d9d9"/>
<rect x="97.56" y="148.96" width="2.75" height="6.63" fill="#7f7f7f"/>
<rect x="100.31" y="148.96" width="2.75" height="6.63" fill="#d9d9d9"/>
<rect x="103.06" y="148.96" width="2.75" height="6.63" fill="#7f7f7f"/>
<rect x="105.8" y="148.96" width="21.96" height="6.63" fill="#d9d9d9"/>
<rect x="127.77" y="148.96" width="8.24" height="6.63" fill="#7f7f7f"/>
<rect x="136" y="148.96" width="2.75" height="6.63" fill="#d9d9d9"/>
<rect x="138.75" y="148.96" width="5.49" height="6.63" fill="#7f7f7f"/>
<rect x="144.24" y="148.96" width="8.24" height="6.63" fill="#d9d9d9"/>
<rect x="152.48" y="148.96" width="5.49" height="6.63" fill="#7f7f7f"/>
<rect x="157.97" y="148.96" width="5.49" height="6.63" fill="#d9d9d9"/>
<rect x="163.46" y="148.96" width="2.75" height="6.63" fill="#7f7f7f"/>
<rect x="166.2" y="148.96" width="5.49" height="6.63" fill="#d9d9d9"/>
<rect x="171.7" y="148.96" width="2.75" height="6.63" fill="#7f7f7f"/>
<rect x="174.44" y="148.96" width="16.47" height="6.63" fill="#d9d9d9"/>
<rect x="190.92" y="148.96" width="2.75" height="6.63" fill="#7f7f7f"/>
<rect x="193.66" y="148.96" width="2.75" height="6.63" fill="#d9d9d9"/>
<rect x="196.41" y="148.96" width="8.24" height="6.63" fill="#7f7f7f"/>
<rect x="204.64" y="148.96" width="10.98" height="6.63" fill="#d9d9d9"/>
<rect x="215.63" y="148.96" width="2.75" height="6.63" fill="#7f7f7f"/>
<rect x="218.37" y="148.96" width="8.24" height="6.63" fill="#d9d9d9"/>
<rect x="226.61" y="148.96" width="2.75" height="6.63" fill="#7f7f7f"/>
<rect x="229.35" y="148.96" width="2.75" height="6.63" fill="#d9d9d9"/>
<rect x="232.1" y="148.96" width="5.49" height="6.63" fill="#7f7f7f"/>
<rect x="237.59" y="148.96" width="10.98" height="6.63" fill="#d9d9d9"/>
<rect x="248.57" y="148.96" width="5.49" height="6.63" fill="#7f7f7f"/>
<rect x="254.06" y="148.96" width="2.75" height="6.63" fill="#d9d9d9"/>
<rect x="256.81" y="148.96" width="2.75" height="6.63" fill="#7f7f7f"/>
<rect x="259.56" y="148.96" width="2.75" height="6.63" fill="#d9d9d9"/>
<rect x="262.3" y="148.96" width="2.75" height="6.63" fill="#7f7f7f"/>
<rect x="265.05" y="148.96" width="2.75" height="6.63" fill="#d9d9d9"/>
<rect x="267.79" y="148.96" width="2.75" height="6.63" fill="#7f7f7f"/>
<rect x="270.54" y="148.96" width="8.24" height="6.63" fill="#d9d9d9"/>
<rect x="278.77" y="148.96" width="2.75" height="6.63" fill="#7f7f7f"/>
<rect x="281.52" y="148.96" width="8.24" height="6.63" fill="#d9d9d9"/>
<rect x="289.76" y="148.96" width="5.49" height="6.63" fill="#7f7f7f"/>
<rect x="295.25" y="148.96" width="2.75" height="6.63" fill="#d9d9d9"/>
<rect x="297.99" y="148.96" width="2.75" height="6.63" fill="#7f7f7f"/>
<rect x="300.74" y="148.96" width="2.75" height="6.63" fill="#d9d9d9"/>
<rect x="303.48" y="148.96" width="5.49" height="6.63" fill="#7f7f7f"/>
<rect x="308.98" y="148.96" width="10.98" height="6.63" fill="#d9d9d9"/>
<rect x="319.96" y="148.96" width="5.49" height="6.63" fill="#7f7f7f"/>
<rect x="325.45" y="148.96" width="2.75" height="6.63" fill="#d9d9d9"/>
<rect x="328.2" y="148.96" width="2.75" height="6.63" fill="#7f7f7f"/>
<rect x="330.94" y="148.96" width="8.24" height="6.63" fill="#d9d9d9"/>
<rect x="339.18" y="148.96" width="2.75" height="6.63" fill="#7f7f7f"/>
<rect x="341.92" y="148.96" width="16.47" height="6.63" fill="#d9d9d9"/>
<rect x="358.4" y="148.96" width="10.98" height="6.63" fill="#7f7f7f"/>
<rect x="369.38" y="148.96" width="5.49" height="6.63" fill="#d9d9d9"/>
<rect x="374.87" y="148.96" width="2.75" height="6.63" fill="#7f7f7f"/>
<rect x="377.62" y="148.96" width="13.73" height="6.63" fill="#d9d9d9"/>
<rect x="391.34" y="148.96" width="2.75" height="6.63" fill="#7f7f7f"/>
<rect x="394.09" y="148.96" width="10.98" height="6.63" fill="#d9d9d9"/>
<rect x="405.07" y="148.96" width="2.75" height="6.63" fill="#7f7f7f"/>
<rect x="407.82" y="148.96" width="2.75" height="6.63" fill="#d9d9d9"/>
<rect x="410.56" y="148.96" width="2.75" height="6.63" fill="#7f7f7f"/>
<rect x="413.31" y="148.96" width="2.75" height="6.63" fill="#d9d9d9"/>
<rect x="416.05" y="148.96" width="2.75" height="6.63" fill="#7f7f7f"/>
<rect x="418.8" y="148.96" width="2.75" height="6.63" fill="#d9d9d9"/>
<rect x="421.55" y="148.96" width="2.75" height="6.63" fill="#7f7f7f"/>
<rect x="424.29" y="148.96" width="5.49" height="6.63" fill="#d9d9d9"/>
<rect x="429.78" y="148.96" width="8.24" height="6.63" fill="#7f7f7f"/>
<rect x="438.02" y="148.96" width="10.98" height="6.63" fill="#d9d9d9"/>
<rect x="449" y="148.96" width="2.75" height="6.63" fill="#7f7f7f"/>
<rect x="451.75" y="148.96" width="8.24" height="6.63" fill="#d9d9d9"/>
<rect x="459.98" y="148.96" width="5.49" height="6.63" fill="#7f7f7f"/>
<rect x="465.48" y="148.96" width="2.75" height="6.63" fill="#d9d9d9"/>
<rect x="468.22" y="148.96" width="5.49" height="6.63" fill="#7f7f7f"/>
<rect x="473.71" y="148.96" width="2.75" height="6.63" fill="#d9d9d9"/>
<rect x="476.46" y="148.96" width="2.75" height="6.63" fill="#7f7f7f"/>
<rect x="479.2" y="148.96" width="8.24" height="6.63" fill="#d9d9d9"/>
<rect x="487.44" y="148.96" width="5.49" height="6.63" fill="#7f7f7f"/>
<rect x="492.93" y="148.96" width="16.47" height="6.63" fill="#d9d9d9"/>
<rect x="75.6" y="158.3" width="2.75" height="6.82" fill="#1c4451"/>
<rect x="78.35" y="158.3" width="2.75" height="6.82" fill="#e9c7c7"/>
<rect x="81.09" y="158.3" width="10.98" height="6.82" fill="#1c4451"/>
<rect x="92.07" y="158.3" width="2.75" height="6.82" fill="#e9c7c7"/>
<rect x="94.82" y="158.3" width="13.73" height="6.82" fill="#1c4451"/>
<rect x="108.55" y="158.3" width="2.75" height="6.82" fill="#e9c7c7"/>
<rect x="111.29" y="158.3" width="2.75" height="6.82" fill="#b81e26"/>
<rect x="114.04" y="158.3" width="16.47" height="6.82" fill="#1c4451"/>
<rect x="130.51" y="158.3" width="2.75" height="6.82" fill="#e9c7c7"/>
<rect x="133.26" y="158.3" width="13.73" height="6.82" fill="#1c4451"/>
<rect x="146.99" y="158.3" width="2.75" height="6.82" fill="#b81e26"/>
<rect x="149.73" y="158.3" width="5.49" height="6.82" fill="#1c4451"/>
<rect x="155.22" y="158.3" width="2.75" height="6.82" fill="#e9c7c7"/>
<rect x="157.97" y="158.3" width="24.71" height="6.82" fill="#1c4451"/>
<rect x="182.68" y="158.3" width="2.75" height="6.82" fill="#e9c7c7"/>
<rect x="185.42" y="158.3" width="2.75" height="6.82" fill="#1c4451"/>
<rect x="188.17" y="158.3" width="10.98" height="6.82" fill="#e9c7c7"/>
<rect x="199.15" y="158.3" width="2.75" height="6.82" fill="#b9d1e1"/>
<rect x="201.9" y="158.3" width="5.49" height="6.82" fill="#1c4451"/>
<rect x="207.39" y="158.3" width="5.49" height="6.82" fill="#e9c7c7"/>
<rect x="212.88" y="158.3" width="5.49" height="6.82" fill="#1c4451"/>
<rect x="218.37" y="158.3" width="2.75" height="6.82" fill="#b81e26"/>
<rect x="221.12" y="158.3" width="5.49" height="6.82" fill="#1c4451"/>
<rect x="226.61" y="158.3" width="10.98" height="6.82" fill="#e9c7c7"/>
<rect x="237.59" y="158.3" width="8.24" height="6.82" fill="#1c4451"/>
<rect x="245.83" y="158.3" width="2.75" height="6.82" fill="#e9c7c7"/>
<rect x="248.57" y="158.3" width="5.49" height="6.82" fill="#1c4451"/>
<rect x="254.06" y="158.3" width="8.24" height="6.82" fill="#e9c7c7"/>
<rect x="262.3" y="158.3" width="10.98" height="6.82" fill="#1c4451"/>
<rect x="273.28" y="158.3" width="2.75" height="6.82" fill="#b81e26"/>
<rect x="276.03" y="158.3" width="2.75" height="6.82" fill="#e9c7c7"/>
<rect x="278.77" y="158.3" width="8.24" height="6.82" fill="#1c4451"/>
<rect x="287.01" y="158.3" width="2.75" height="6.82" fill="#e9c7c7"/>
<rect x="289.76" y="158.3" width="2.75" height="6.82" fill="#1c4451"/>
<rect x="292.5" y="158.3" width="2.75" height="6.82" fill="#e9c7c7"/>
<rect x="295.25" y="158.3" width="2.75" height="6.82" fill="#1c4451"/>
<rect x="297.99" y="158.3" width="5.49" height="6.82" fill="#e9c7c7"/>
<rect x="303.48" y="158.3" width="2.75" height="6.82" fill="#1c4451"/>
<rect x="306.23" y="158.3" width="2.75" height="6.82" fill="#b9d1e1"/>
<rect x="308.98" y="158.3" width="2.75" height="6.82" fill="#1c4451"/>
<rect x="311.72" y="158.3" width="2.75" height="6.82" fill="#b81e26"/>
<rect x="314.47" y="158.3" width="13.73" height="6.82" fill="#e9c7c7"/>
<rect x="328.2" y="158.3" width="8.24" height="6.82" fill="#1c4451"/>
<rect x="336.43" y="158.3" width="2.75" height="6.82" fill="#e9c7c7"/>
<rect x="339.18" y="158.3" width="8.24" height="6.82" fill="#1c4451"/>
<rect x="347.41" y="158.3" width="10.98" height="6.82" fill="#e9c7c7"/>
<rect x="358.4" y="158.3" width="8.24" height="6.82" fill="#1c4451"/>
<rect x="366.63" y="158.3" width="5.49" height="6.82" fill="#e9c7c7"/>
<rect x="372.12" y="158.3" width="5.49" height="6.82" fill="#1c4451"/>
<rect x="377.62" y="158.3" width="2.75" height="6.82" fill="#e9c7c7"/>
<rect x="380.36" y="158.3" width="5.49" height="6.82" fill="#1c4451"/>
<rect x="385.85" y="158.3" width="10.98" height="6.82" fill="#e9c7c7"/>
<rect x="396.84" y="158.3" width="2.75" height="6.82" fill="#1c4451"/>
<rect x="399.58" y="158.3" width="2.75" height="6.82" fill="#b81e26"/>
<rect x="402.33" y="158.3" width="2.75" height="6.82" fill="#e9c7c7"/>
<rect x="405.07" y="158.3" width="10.98" height="6.82" fill="#1c4451"/>
<rect x="416.05" y="158.3" width="2.75" height="6.82" fill="#b81e26"/>
<rect x="418.8" y="158.3" width="2.75" height="6.82" fill="#e9c7c7"/>
<rect x="421.55" y="158.3" width="8.24" height="6.82" fill="#1c4451"/>
<rect x="429.78" y="158.3" width="2.75" height="6.82" fill="#e9c7c7"/>
<rect x="432.53" y="158.3" width="5.49" height="6.82" fill="#1c4451"/>
<rect x="438.02" y="158.3" width="8.24" height="6.82" fill="#e9c7c7"/>
<rect x="446.26" y="158.3" width="2.75" height="6.82" fill="#1c4451"/>
<rect x="449" y="158.3" width="10.98" height="6.82" fill="#e9c7c7"/>
<rect x="459.98" y="158.3" width="5.49" height="6.82" fill="#1c4451"/>
<rect x="465.48" y="158.3" width="10.98" height="6.82" fill="#e9c7c7"/>
<rect x="476.46" y="158.3" width="2.75" height="6.82" fill="#b9d1e1"/>
<rect x="479.2" y="158.3" width="2.75" height="6.82" fill="#e9c7c7"/>
<rect x="481.95" y="158.3" width="2.75" height="6.82" fill="#1c4451"/>
<rect x="484.69" y="158.3" width="5.49" height="6.82" fill="#e9c7c7"/>
<rect x="490.19" y="158.3" width="2.75" height="6.82" fill="#b81e26"/>
<rect x="492.93" y="158.3" width="2.75" height="6.82" fill="#e9c7c7"/>
<rect x="495.68" y="158.3" width="2.75" height="6.82" fill="#b9d1e1"/>
<rect x="498.42" y="158.3" width="10.98" height="6.82" fill="#e9c7c7"/>
<rect x="75.6" y="165.12" width="5.49" height="6.82" fill="#e9c7c7"/>
<rect x="83.84" y="165.12" width="8.24" height="6.82" fill="#e9c7c7"/>
<rect x="92.07" y="165.12" width="2.75" height="6.82" fill="#1c4451"/>
<rect x="103.06" y="165.12" width="2.75" height="6.82" fill="#e9c7c7"/>
<rect x="108.55" y="165.12" width="2.75" height="6.82" fill="#1c4451"/>
<rect x="111.29" y="165.12" width="2.75" height="6.82" fill="#b81e26"/>
<rect x="114.04" y="165.12" width="5.49" height="6.82" fill="#e9c7c7"/>
<rect x="122.28" y="165.12" width="5.49" height="6.82" fill="#e9c7c7"/>
<rect x="130.51" y="165.12" width="2.75" height="6.82" fill="#e9c7c7"/>
<rect x="133.26" y="165.12" width="2.75" height="6.82" fill="#b81e26"/>
<rect x="136" y="165.12" width="2.75" height="6.82" fill="#e9c7c7"/>
<rect x="141.49" y="165.12" width="2.75" height="6.82" fill="#e9c7c7"/>
<rect x="146.99" y="165.12" width="2.75" height="6.82" fill="#1c4451"/>
<rect x="149.73" y="165.12" width="2.75" height="6.82" fill="#e9c7c7"/>
<rect x="155.22" y="165.12" width="5.49" height="6.82" fill="#e9c7c7"/>
<rect x="163.46" y="165.12" width="5.49" height="6.82" fill="#e9c7c7"/>
<rect x="171.7" y="165.12" width="2.75" height="6.82" fill="#e9c7c7"/>
<rect x="174.44" y="165.12" width="2.75" height="6.82" fill="#b81e26"/>
<rect x="177.19" y="165.12" width="10.98" height="6.82" fill="#e9c7c7"/>
<rect x="188.17" y="165.12" width="8.24" height="6.82" fill="#1c4451"/>
<rect x="196.41" y="165.12" width="2.75" height="6.82" fill="#b9d1e1"/>
<rect x="199.15" y="165.12" width="5.49" height="6.82" fill="#e9c7c7"/>
<rect x="207.39" y="165.12" width="2.75" height="6.82" fill="#b81e26"/>
<rect x="210.13" y="165.12" width="2.75" height="6.82" fill="#e9c7c7"/>
<rect x="218.37" y="165.12" width="2.75" height="6.82" fill="#1c4451"/>
<rect x="221.12" y="165.12" width="5.49" height="6.82" fill="#e9c7c7"/>
<rect x="226.61" y="165.12" width="10.98" height="6.82" fill="#1c4451"/>
<rect x="237.59" y="165.12" width="2.75" height="6.82" fill="#e9c7c7"/>
<rect x="245.83" y="165.12" width="2.75" height="6.82" fill="#1c4451"/>
<rect x="254.06" y="165.12" width="2.75" height="6.82" fill="#1c4451"/>
<rect x="256.81" y="165.12" width="2.75" height="6.82" fill="#b9d1e1"/>
<rect x="259.56" y="165.12" width="2.75" height="6.82" fill="#1c4451"/>
<rect x="262.3" y="165.12" width="2.75" height="6.82" fill="#e9c7c7"/>
<rect x="267.79" y="165.12" width="2.75" height="6.82" fill="#e9c7c7"/>
<rect x="270.54" y="165.12" width="2.75" height="6.82" fill="#b81e26"/>
<rect x="273.28" y="165.12" width="5.49" height="6.82" fill="#1c4451"/>
<rect x="278.77" y="165.12" width="2.75" height="6.82" fill="#b81e26"/>
<rect x="281.52" y="165.12" width="5.49" height="6.82" fill="#e9c7c7"/>
<rect x="287.01" y="165.12" width="2.75" height="6.82" fill="#1c4451"/>
<rect x="292.5" y="165.12" width="2.75" height="6.82" fill="#1c4451"/>
<rect x="295.25" y="165.12" width="5.49" height="6.82" fill="#e9c7c7"/>
<rect x="300.74" y="165.12" width="2.75" height="6.82" fill="#1c4451"/>
<rect x="306.23" y="165.12" width="2.75" height="6.82" fill="#b9d1e1"/>
<rect x="308.98" y="165.12" width="2.75" height="6.82" fill="#e9c7c7"/>
<rect x="314.47" y="165.12" width="5.49" height="6.82" fill="#1c4451"/>
<rect x="319.96" y="165.12" width="2.75" height="6.82" fill="#e9c7c7"/>
<rect x="322.7" y="165.12" width="5.49" height="6.82" fill="#1c4451"/>
<rect x="336.43" y="165.12" width="2.75" height="6.82" fill="#1c4451"/>
<rect x="339.18" y="165.12" width="2.75" height="6.82" fill="#e9c7c7"/>
<rect x="344.67" y="165.12" width="2.75" height="6.82" fill="#e9c7c7"/>
<rect x="347.41" y="165.12" width="2.75" height="6.82" fill="#1c4451"/>
<rect x="350.16" y="165.12" width="5.49" height="6.82" fill="#e9c7c7"/>
<rect x="355.65" y="165.12" width="2.75" height="6.82" fill="#1c4451"/>
<rect x="358.4" y="165.12" width="2.75" height="6.82" fill="#e9c7c7"/>
<rect x="366.63" y="165.12" width="5.49" height="6.82" fill="#1c4451"/>
<rect x="372.12" y="165.12" width="2.75" height="6.82" fill="#e9c7c7"/>
<rect x="377.62" y="165.12" width="2.75" height="6.82" fill="#1c4451"/>
<rect x="380.36" y="165.12" width="2.75" height="6.82" fill="#b81e26"/>
<rect x="385.85" y="165.12" width="5.49" height="6.82" fill="#1c4451"/>
<rect x="391.34" y="165.12" width="2.75" height="6.82" fill="#b9d1e1"/>
<rect x="394.09" y="165.12" width="2.75" height="6.82" fill="#1c4451"/>
<rect x="399.58" y="165.12" width="5.49" height="6.82" fill="#1c4451"/>
<rect x="416.05" y="165.12" width="5.49" height="6.82" fill="#1c4451"/>
<rect x="424.29" y="165.12" width="19.22" height="6.82" fill="#e9c7c7"/>
<rect x="443.51" y="165.12" width="2.75" height="6.82" fill="#1c4451"/>
<rect x="446.26" y="165.12" width="5.49" height="6.82" fill="#e9c7c7"/>
<rect x="451.75" y="165.12" width="2.75" height="6.82" fill="#1c4451"/>
<rect x="454.49" y="165.12" width="2.75" height="6.82" fill="#e9c7c7"/>
<rect x="457.24" y="165.12" width="2.75" height="6.82" fill="#1c4451"/>
<rect x="459.98" y="165.12" width="2.75" height="6.82" fill="#e9c7c7"/>
<rect x="465.48" y="165.12" width="5.49" height="6.82" fill="#e9c7c7"/>
<rect x="470.97" y="165.12" width="10.98" height="6.82" fill="#1c4451"/>
<rect x="484.69" y="165.12" width="5.49" height="6.82" fill="#e9c7c7"/>
<rect x="490.19" y="165.12" width="2.75" height="6.82" fill="#1c4451"/>
<rect x="492.93" y="165.12" width="16.47" height="6.82" fill="#e9c7c7"/>
<rect x="78.35" y="171.94" width="2.75" height="6.82" fill="#e9c7c7"/>
<rect x="130.51" y="171.94" width="2.75" height="6.82" fill="#e9c7c7"/>
<rect x="155.22" y="171.94" width="2.75" height="6.82" fill="#1c4451"/>
<rect x="207.39" y="171.94" width="2.75" height="6.82" fill="#1c4451"/>
<rect x="297.99" y="171.94" width="2.75" height="6.82" fill="#e9c7c7"/>
<rect x="319.96" y="171.94" width="2.75" height="6.82" fill="#b9d1e1"/>
<rect x="350.16" y="171.94" width="2.75" height="6.82" fill="#1c4451"/>
<rect x="352.91" y="171.94" width="2.75" height="6.82" fill="#e9c7c7"/>
<rect x="429.78" y="171.94" width="2.75" height="6.82" fill="#b9d1e1"/>
<rect x="438.02" y="171.94" width="2.75" height="6.82" fill="#1c4451"/>
<rect x="440.76" y="171.94" width="2.75" height="6.82" fill="#e9c7c7"/>
<rect x="449" y="171.94" width="2.75" height="6.82" fill="#b81e26"/>
<rect x="454.49" y="171.94" width="2.75" height="6.82" fill="#1c4451"/>
<rect x="465.48" y="171.94" width="2.75" height="6.82" fill="#e9c7c7"/>
<rect x="468.22" y="171.94" width="2.75" height="6.82" fill="#b9d1e1"/>
<rect x="487.44" y="171.94" width="2.75" height="6.82" fill="#e9c7c7"/>
<rect x="492.93" y="171.94" width="2.75" height="6.82" fill="#e9c7c7"/>
<rect x="495.68" y="171.94" width="2.75" height="6.82" fill="#1c4451"/>
<rect x="498.42" y="171.94" width="5.49" height="6.82" fill="#e9c7c7"/>
<rect x="503.91" y="171.94" width="2.75" height="6.82" fill="#b9d1e1"/>
<rect x="506.66" y="171.94" width="2.75" height="6.82" fill="#1c4451"/>
<rect x="78.35" y="178.76" width="2.75" height="6.82" fill="#1c4451"/>
<rect x="130.51" y="178.76" width="2.75" height="6.82" fill="#1c4451"/>
<rect x="297.99" y="178.76" width="2.75" height="6.82" fill="#e9c7c7"/>
<rect x="319.96" y="178.76" width="2.75" height="6.82" fill="#b9d1e1"/>
<rect x="352.91" y="178.76" width="2.75" height="6.82" fill="#e9c7c7"/>
<rect x="429.78" y="178.76" width="2.75" height="6.82" fill="#1c4451"/>
<rect x="440.76" y="178.76" width="2.75" height="6.82" fill="#1c4451"/>
<rect x="468.22" y="178.76" width="2.75" height="6.82" fill="#1c4451"/>
<rect x="487.44" y="178.76" width="2.75" height="6.82" fill="#e9c7c7"/>
<rect x="492.93" y="178.76" width="2.75" height="6.82" fill="#1c4451"/>
<rect x="498.42" y="178.76" width="5.49" height="6.82" fill="#e9c7c7"/>
<rect x="503.91" y="178.76" width="2.75" height="6.82" fill="#b9d1e1"/>
<rect x="506.66" y="178.76" width="2.75" height="6.82" fill="#e9c7c7"/>
<rect x="297.99" y="185.58" width="2.75" height="6.82" fill="#1c4451"/>
<rect x="319.96" y="185.58" width="2.75" height="6.82" fill="#e9c7c7"/>
<rect x="352.91" y="185.58" width="2.75" height="6.82" fill="#1c4451"/>
<rect x="487.44" y="185.58" width="2.75" height="6.82" fill="#1c4451"/>
<rect x="498.42" y="185.58" width="2.75" height="6.82" fill="#1c4451"/>
<rect x="501.17" y="185.58" width="2.75" height="6.82" fill="#e9c7c7"/>
<rect x="503.91" y="185.58" width="2.75" height="6.82" fill="#1c4451"/>
<rect x="319.96" y="192.4" width="2.75" height="6.82" fill="#1c4451"/>
<rect x="501.17" y="192.4" width="2.75" height="6.82" fill="#1c4451"/>
<path d="M78.35,127.1V199.3 M81.09,127.1V199.3 M83.84,127.1V199.3 M86.58,127.1V199.3 M89.33,127.1V199.3 M92.07,127.1V199.3 M94.82,127.1V199.3 M97.56,127.1V199.3 M100.31,127.1V199.3 M103.06,127.1V199.3 M105.8,127.1V199.3 M108.55,127.1V199.3 M111.29,127.1V199.3 M114.04,127.1V199.3 M116.78,127.1V199.3 M119.53,127.1V199.3 M122.28,127.1V199.3 M125.02,127.1V199.3 M127.77,127.1V199.3 M130.51,127.1V199.3 M133.26,127.1V199.3 M136,127.1V199.3 M138.75,127.1V199.3 M141.49,127.1V199.3 M144.24,127.1V199.3 M146.99,127.1V199.3 M149.73,127.1V199.3 M152.48,127.1V199.3 M155.22,127.1V199.3 M157.97,127.1V199.3 M160.71,127.1V199.3 M163.46,127.1V199.3 M166.2,127.1V199.3 M168.95,127.1V199.3 M171.7,127.1V199.3 M174.44,127.1V199.3 M177.19,127.1V199.3 M179.93,127.1V199.3 M182.68,127.1V199.3 M185.42,127.1V199.3 M188.17,127.1V199.3 M190.92,127.1V199.3 M193.66,127.1V199.3 M196.41,127.1V199.3 M199.15,127.1V199.3 M201.9,127.1V199.3 M204.64,127.1V199.3 M207.39,127.1V199.3 M210.13,127.1V199.3 M212.88,127.1V199.3 M215.63,127.1V199.3 M218.37,127.1V199.3 M221.12,127.1V199.3 M223.86,127.1V199.3 M226.61,127.1V199.3 M229.35,127.1V199.3 M232.1,127.1V199.3 M234.84,127.1V199.3 M237.59,127.1V199.3 M240.34,127.1V199.3 M243.08,127.1V199.3 M245.83,127.1V199.3 M248.57,127.1V199.3 M251.32,127.1V199.3 M254.06,127.1V199.3 M256.81,127.1V199.3 M259.56,127.1V199.3 M262.3,127.1V199.3 M265.05,127.1V199.3 M267.79,127.1V199.3 M270.54,127.1V199.3 M273.28,127.1V199.3 M276.03,127.1V199.3 M278.77,127.1V199.3 M281.52,127.1V199.3 M284.27,127.1V199.3 M287.01,127.1V199.3 M289.76,127.1V199.3 M292.5,127.1V199.3 M295.25,127.1V199.3 M297.99,127.1V199.3 M300.74,127.1V199.3 M303.48,127.1V199.3 M306.23,127.1V199.3 M308.98,127.1V199.3 M311.72,127.1V199.3 M314.47,127.1V199.3 M317.21,127.1V199.3 M319.96,127.1V199.3 M322.7,127.1V199.3 M325.45,127.1V199.3 M328.2,127.1V199.3 M330.94,127.1V199.3 M333.69,127.1V199.3 M336.43,127.1V199.3 M339.18,127.1V199.3 M341.92,127.1V199.3 M344.67,127.1V199.3 M347.41,127.1V199.3 M350.16,127.1V199.3 M352.91,127.1V199.3 M355.65,127.1V199.3 M358.4,127.1V199.3 M361.14,127.1V199.3 M363.89,127.1V199.3 M366.63,127.1V199.3 M369.38,127.1V199.3 M372.12,127.1V199.3 M374.87,127.1V199.3 M377.62,127.1V199.3 M380.36,127.1V199.3 M383.11,127.1V199.3 M385.85,127.1V199.3 M388.6,127.1V199.3 M391.34,127.1V199.3 M394.09,127.1V199.3 M396.84,127.1V199.3 M399.58,127.1V199.3 M402.33,127.1V199.3 M405.07,127.1V199.3 M407.82,127.1V199.3 M410.56,127.1V199.3 M413.31,127.1V199.3 M416.05,127.1V199.3 M418.8,127.1V199.3 M421.55,127.1V199.3 M424.29,127.1V199.3 M427.04,127.1V199.3 M429.78,127.1V199.3 M432.53,127.1V199.3 M435.27,127.1V199.3 M438.02,127.1V199.3 M440.76,127.1V199.3 M443.51,127.1V199.3 M446.26,127.1V199.3 M449,127.1V199.3 M451.75,127.1V199.3 M454.49,127.1V199.3 M457.24,127.1V199.3 M459.98,127.1V199.3 M462.73,127.1V199.3 M465.48,127.1V199.3 M468.22,127.1V199.3 M470.97,127.1V199.3 M473.71,127.1V199.3 M476.46,127.1V199.3 M479.2,127.1V199.3 M481.95,127.1V199.3 M484.69,127.1V199.3 M487.44,127.1V199.3 M490.19,127.1V199.3 M492.93,127.1V199.3 M495.68,127.1V199.3 M498.42,127.1V199.3 M501.17,127.1V199.3 M503.91,127.1V199.3 M506.66,127.1V199.3" stroke="#fff" stroke-width="0.35" stroke-opacity="0.3" fill="none"/>
<text x="72.5" y="131.9" font-size="5.5" text-anchor="end" textLength="10.1" lengthAdjust="spacingAndGlyphs" stroke="#231f20" stroke-width="0.1">Age</text>
<text x="72.5" y="140.9" font-size="5.5" text-anchor="end" textLength="19" lengthAdjust="spacingAndGlyphs" stroke="#231f20" stroke-width="0.1">Transfer</text>
<text x="72.5" y="147.9" font-size="5.5" text-anchor="end" textLength="26.6" lengthAdjust="spacingAndGlyphs" stroke="#231f20" stroke-width="0.1">Differential</text>
<text x="72.5" y="154.8" font-size="5.5" text-anchor="end" textLength="19.7" lengthAdjust="spacingAndGlyphs" stroke="#231f20" stroke-width="0.1">Steroids</text>
<line x1="59.5" y1="157.6" x2="59.5" y2="199.9" stroke="#000" stroke-width="0.9"/>
<line x1="59" y1="157.9" x2="60.5" y2="157.9" stroke="#000" stroke-width="0.7"/>
<line x1="59" y1="199.6" x2="60.5" y2="199.6" stroke="#000" stroke-width="0.7"/>
<line x1="58.4" y1="178.4" x2="59.5" y2="178.4" stroke="#000" stroke-width="0.6"/>
<text x="53.6" y="193.8" font-size="7.2" textLength="30.2" lengthAdjust="spacingAndGlyphs" stroke="#231f20" stroke-width="0.06" transform="rotate(-90 53.6 193.8)">Procedure</text>
<text x="62.4" y="163.6" font-size="6.2" textLength="3.4" lengthAdjust="spacingAndGlyphs" stroke="#231f20" stroke-width="0.1">1</text>
<text x="65.9" y="161.4" font-size="3.6" textLength="2.8" lengthAdjust="spacingAndGlyphs" stroke="#231f20" stroke-width="0.1">st</text>
<text x="62.4" y="170.35" font-size="6.2" textLength="3.4" lengthAdjust="spacingAndGlyphs" stroke="#231f20" stroke-width="0.1">2</text>
<text x="65.9" y="168.15" font-size="3.6" textLength="3.4" lengthAdjust="spacingAndGlyphs" stroke="#231f20" stroke-width="0.1">nd</text>
<text x="62.4" y="177.1" font-size="6.2" textLength="3.4" lengthAdjust="spacingAndGlyphs" stroke="#231f20" stroke-width="0.1">3</text>
<text x="65.9" y="174.9" font-size="3.6" textLength="3.4" lengthAdjust="spacingAndGlyphs" stroke="#231f20" stroke-width="0.1">rd</text>
<text x="62.4" y="183.85" font-size="6.2" textLength="3.4" lengthAdjust="spacingAndGlyphs" stroke="#231f20" stroke-width="0.1">4</text>
<text x="65.9" y="181.65" font-size="3.6" textLength="2.8" lengthAdjust="spacingAndGlyphs" stroke="#231f20" stroke-width="0.1">th</text>
<text x="62.4" y="190.6" font-size="6.2" textLength="3.4" lengthAdjust="spacingAndGlyphs" stroke="#231f20" stroke-width="0.1">5</text>
<text x="65.9" y="188.4" font-size="3.6" textLength="2.8" lengthAdjust="spacingAndGlyphs" stroke="#231f20" stroke-width="0.1">th</text>
<text x="62.4" y="197.35" font-size="6.2" textLength="3.4" lengthAdjust="spacingAndGlyphs" stroke="#231f20" stroke-width="0.1">6</text>
<text x="65.9" y="195.15" font-size="3.6" textLength="2.8" lengthAdjust="spacingAndGlyphs" stroke="#231f20" stroke-width="0.1">th</text>
<defs><linearGradient id="ag" x1="0" x2="1" y1="0" y2="0"><stop offset="0" stop-color="#8b4513"/><stop offset="0.5" stop-color="#d2a36c"/><stop offset="1" stop-color="#fde2b5"/></linearGradient></defs>
<text x="94.3" y="210.7" font-size="5.3" textLength="28.7" lengthAdjust="spacingAndGlyphs" stroke="#231f20" stroke-width="0.1">Age (years):</text>
<rect x="93.8" y="213.8" width="58.1" height="6" fill="url(#ag)"/>
<text x="100.1" y="227.3" font-size="5.7" text-anchor="middle" textLength="5.8" lengthAdjust="spacingAndGlyphs" stroke="#231f20" stroke-width="0.1">30</text>
<text x="115.8" y="227.3" font-size="5.7" text-anchor="middle" textLength="5.8" lengthAdjust="spacingAndGlyphs" stroke="#231f20" stroke-width="0.1">50</text>
<text x="132.1" y="227.3" font-size="5.7" text-anchor="middle" textLength="5.8" lengthAdjust="spacingAndGlyphs" stroke="#231f20" stroke-width="0.1">70</text>
<text x="148.1" y="227.3" font-size="5.7" text-anchor="middle" textLength="5.8" lengthAdjust="spacingAndGlyphs" stroke="#231f20" stroke-width="0.1">90</text>
<text x="166.4" y="213.2" font-size="5.8" textLength="126.4" lengthAdjust="spacingAndGlyphs" stroke="#231f20" stroke-width="0.1">Transfer from outside institution, Lymphoma in initial</text>
<text x="166.4" y="219.2" font-size="5.8" textLength="142.6" lengthAdjust="spacingAndGlyphs" stroke="#231f20" stroke-width="0.1">differential diagnosis, Steroids given before first procedure:</text>
<rect x="166.4" y="225.6" width="5.8" height="6.1" fill="#7f7f7f"/>
<text x="175.2" y="230.8" font-size="5.8" textLength="7.4" lengthAdjust="spacingAndGlyphs" stroke="#231f20" stroke-width="0.1">Yes</text>
<rect x="188.5" y="225.6" width="6.1" height="6.1" fill="#d9d9d9"/>
<text x="197.7" y="230.8" font-size="5.8" textLength="6.9" lengthAdjust="spacingAndGlyphs" stroke="#231f20" stroke-width="0.1">No</text>
<text x="323" y="213.3" font-size="5.8" textLength="45.3" lengthAdjust="spacingAndGlyphs" fill="#444" stroke="#444" stroke-width="0.1">Diagnostic Assays:</text>
<rect x="323.2" y="218.1" width="6.2" height="5.6" fill="#dfc3c3"/>
<text x="332.4" y="223" font-size="5.8" textLength="68.2" lengthAdjust="spacingAndGlyphs" stroke="#231f20" stroke-width="0.1">Non-diagnostic CSF analysis</text>
<rect x="323.2" y="227.2" width="6.2" height="5.6" fill="#c3d3e2"/>
<text x="332.4" y="232.1" font-size="5.8" textLength="54.6" lengthAdjust="spacingAndGlyphs" stroke="#231f20" stroke-width="0.1">Non-diagnostic biopsy</text>
<rect x="411.2" y="218.1" width="6.2" height="5.6" fill="#a8242c"/>
<text x="420.4" y="223" font-size="5.8" textLength="53.6" lengthAdjust="spacingAndGlyphs" stroke="#231f20" stroke-width="0.1">Diagnostic CSF analysis</text>
<rect x="411.2" y="227.2" width="6.2" height="5.6" fill="#2a4552"/>
<text x="420.4" y="232.1" font-size="5.8" textLength="42.8" lengthAdjust="spacingAndGlyphs" stroke="#231f20" stroke-width="0.1">Diagnostic biopsy</text>
<text x="7.8" y="260.6" font-size="10.8" textLength="8" lengthAdjust="spacingAndGlyphs" font-weight="bold" fill="#000" stroke="#000" stroke-width="0.06">B</text>
<text x="31.8" y="282.1" font-size="9" textLength="134.2" lengthAdjust="spacingAndGlyphs" stroke="#231f20" stroke-width="0.06">PCNSL in Radiographic Differential</text>
<text x="32.8" y="292.3" font-size="9" textLength="131.7" lengthAdjust="spacingAndGlyphs" stroke="#231f20" stroke-width="0.06">Diagnosis, 2010 – 2019 (N = 1007)</text>
<path d="M43.8,297 C43.8,309.5 19.5,309.5 19.5,322 L50.27,322 C50.27,309.5 74.57,309.5 74.57,297 Z" fill="#e3ebc5"/>
<rect x="19.5" y="321.8" width="30.77" height="2" fill="#a4c43a"/>
<path d="M74.57,297 C74.57,309.5 60.46,309.5 60.46,322 L76.38,322 C76.38,309.5 90.49,309.5 90.49,297 Z" fill="#d9cbe6"/>
<rect x="60.46" y="321.8" width="15.93" height="2" fill="#6b3a9c"/>
<path d="M90.49,297 C90.49,309.5 86.57,309.5 86.57,322 L101.09,322 C101.09,309.5 105.01,309.5 105.01,297 Z" fill="#e6e6e6"/>
<rect x="86.57" y="321.8" width="14.51" height="2" fill="#a6a6a6"/>
<path d="M105.01,297 C105.01,309.5 111.28,309.5 111.28,322 L125.35,322 C125.35,309.5 119.08,309.5 119.08,297 Z" fill="#ebbdc6"/>
<rect x="111.28" y="321.8" width="14.07" height="2" fill="#b01030"/>
<path d="M119.08,297 C119.08,309.5 135.54,309.5 135.54,322 L146.99,322 C146.99,309.5 130.53,309.5 130.53,297 Z" fill="#d3e4f4"/>
<rect x="135.54" y="321.8" width="11.46" height="2" fill="#5ba7e2"/>
<path d="M130.53,297 C130.53,309.5 157.18,309.5 157.18,322 L168.86,322 C168.86,309.5 142.21,309.5 142.21,297 Z" fill="#ebe7cc"/>
<rect x="157.18" y="321.8" width="11.67" height="2" fill="#c8b858"/>
<path d="M142.21,297 C142.21,309.5 179.05,309.5 179.05,322 L185.49,322 C185.49,309.5 148.65,309.5 148.65,297 Z" fill="#f8e1c2"/>
<rect x="179.05" y="321.8" width="6.44" height="2" fill="#ee9020"/>
<path d="M148.65,297 C148.65,309.5 195.68,309.5 195.68,322 L199.93,322 C199.93,309.5 152.9,309.5 152.9,297 Z" fill="#e6c4c6"/>
<rect x="195.68" y="321.8" width="4.25" height="2" fill="#a01828"/>
<line x1="43.8" y1="296.6" x2="152.9" y2="296.6" stroke="#000" stroke-width="1.1"/>
<text x="36.38" y="331.6" font-size="6.6" text-anchor="end" textLength="30.67" lengthAdjust="spacingAndGlyphs" stroke="#231f20" stroke-width="0.06" transform="rotate(-45 36.38 331.6)">High-grade</text>
<text x="41.68" y="336.9" font-size="6.6" text-anchor="end" textLength="36.18" lengthAdjust="spacingAndGlyphs" stroke="#231f20" stroke-width="0.06" transform="rotate(-45 41.68 336.9)">glioma (28.2)</text>
<text x="69.32" y="331.6" font-size="6.6" text-anchor="end" textLength="38.36" lengthAdjust="spacingAndGlyphs" stroke="#231f20" stroke-width="0.06" transform="rotate(-45 69.32 331.6)">PCNSL (14.6)</text>
<text x="96.23" y="331.6" font-size="6.6" text-anchor="end" textLength="53.75" lengthAdjust="spacingAndGlyphs" stroke="#231f20" stroke-width="0.06" transform="rotate(-45 96.23 331.6)">Inflammatory (13.3)</text>
<text x="119.71" y="331.6" font-size="6.6" text-anchor="end" textLength="43.76" lengthAdjust="spacingAndGlyphs" stroke="#231f20" stroke-width="0.06" transform="rotate(-45 119.71 331.6)">Unknown (12.9)</text>
<text x="142.27" y="331.6" font-size="6.6" text-anchor="end" textLength="31.01" lengthAdjust="spacingAndGlyphs" stroke="#231f20" stroke-width="0.06" transform="rotate(-45 142.27 331.6)">Other brain</text>
<text x="147.57" y="336.9" font-size="6.6" text-anchor="end" textLength="33.76" lengthAdjust="spacingAndGlyphs" stroke="#231f20" stroke-width="0.06" transform="rotate(-45 147.57 336.9)">tumor (10.5)</text>
<text x="166.62" y="331.6" font-size="6.6" text-anchor="end" textLength="47.55" lengthAdjust="spacingAndGlyphs" stroke="#231f20" stroke-width="0.06" transform="rotate(-45 166.62 331.6)">Metastasis (10.7)</text>
<text x="184.57" y="331.6" font-size="6.6" text-anchor="end" textLength="37.91" lengthAdjust="spacingAndGlyphs" stroke="#231f20" stroke-width="0.06" transform="rotate(-45 184.57 331.6)">Infection (5.9)</text>
<text x="200.1" y="331.6" font-size="6.6" text-anchor="end" textLength="29.97" lengthAdjust="spacingAndGlyphs" stroke="#231f20" stroke-width="0.06" transform="rotate(-45 200.1 331.6)">Other (3.9)</text>
<text x="74" y="378" font-size="6.5" textLength="53.1" lengthAdjust="spacingAndGlyphs" stroke="#231f20" stroke-width="0.06">Final Diagnosis (%)</text>
<text x="217.2" y="261.2" font-size="10.8" textLength="7.6" lengthAdjust="spacingAndGlyphs" font-weight="bold" fill="#000" stroke="#000" stroke-width="0.06">C</text>
<defs><filter id="nz" x="0" y="0" width="1" height="1"><feTurbulence type="fractalNoise" baseFrequency="0.35" numOctaves="2" seed="3" result="t"/><feColorMatrix in="t" type="matrix" values="0 0 0 0 0.5  0 0 0 0 0.5  0 0 0 0 0.5  0 0 0 0.9 -0.2" result="n"/><feComposite in="n" in2="SourceGraphic" operator="in" result="m"/><feBlend in="SourceGraphic" in2="m" mode="multiply"/></filter><clipPath id="mc"><rect x="217.7" y="268" width="68" height="67.6"/></clipPath></defs>
<rect x="217.2" y="267.5" width="69" height="68.3" fill="#000"/>
<g clip-path="url(#mc)">
<path d="M252,259.4 C247.66,259.4 243.14,259.58 238.98,260.48 C234.82,261.39 230.12,262.74 227.05,264.82 C223.97,266.9 222.13,269.52 220.53,272.96 C218.94,276.4 218.08,280.92 217.5,285.44 C216.92,289.96 216.83,295.47 217.06,300.08 C217.3,304.7 217.88,309.31 218.91,313.11 C219.94,316.9 221.35,320.07 223.25,322.87 C225.15,325.67 227.41,327.97 230.3,329.92 C233.19,331.88 236.99,333.56 240.61,334.59 C244.22,335.62 248.2,336.11 252,336.11 C255.8,336.11 259.78,335.62 263.39,334.59 C267.01,333.56 270.81,331.88 273.7,329.92 C276.59,327.97 278.85,325.67 280.75,322.87 C282.65,320.07 284.06,316.9 285.09,313.11 C286.12,309.31 286.7,304.7 286.94,300.08 C287.17,295.47 287.08,289.96 286.5,285.44 C285.92,280.92 285.06,276.4 283.46,272.96 C281.87,269.52 280.03,266.9 276.95,264.82 C273.88,262.74 269.18,261.39 265.02,260.48 C260.86,259.58 256.34,259.4 252,259.4 Z" fill="#1c1c1c" stroke="#b8b8b8" stroke-width="1.4"/>
<path d="M252,261.04 C247.84,261.04 243.51,261.21 239.52,262.08 C235.53,262.95 231.03,264.25 228.08,266.24 C225.13,268.23 223.37,270.75 221.84,274.04 C220.31,277.33 219.48,281.67 218.93,286 C218.37,290.33 218.29,295.62 218.51,300.04 C218.74,304.46 219.29,308.88 220.28,312.52 C221.27,316.16 222.62,319.19 224.44,321.88 C226.26,324.57 228.43,326.77 231.2,328.64 C233.97,330.51 237.61,332.12 241.08,333.11 C244.55,334.1 248.36,334.57 252,334.57 C255.64,334.57 259.45,334.1 262.92,333.11 C266.39,332.12 270.03,330.51 272.8,328.64 C275.57,326.77 277.74,324.57 279.56,321.88 C281.38,319.19 282.73,316.16 283.72,312.52 C284.71,308.88 285.26,304.46 285.49,300.04 C285.71,295.62 285.63,290.33 285.07,286 C284.52,281.67 283.69,277.33 282.16,274.04 C280.63,270.75 278.87,268.23 275.92,266.24 C272.97,264.25 268.47,262.95 264.48,262.08 C260.49,261.21 256.16,261.04 252,261.04 Z" fill="#0a0a0a"/>
<path d="M252,262.5 C248,262.5 243.83,262.67 240,263.5 C236.17,264.33 231.83,265.58 229,267.5 C226.17,269.42 224.47,271.83 223,275 C221.53,278.17 220.73,282.33 220.2,286.5 C219.67,290.67 219.58,295.75 219.8,300 C220.02,304.25 220.55,308.5 221.5,312 C222.45,315.5 223.75,318.42 225.5,321 C227.25,323.58 229.33,325.7 232,327.5 C234.67,329.3 238.17,330.85 241.5,331.8 C244.83,332.75 248.5,333.2 252,333.2 C255.5,333.2 259.17,332.75 262.5,331.8 C265.83,330.85 269.33,329.3 272,327.5 C274.67,325.7 276.75,323.58 278.5,321 C280.25,318.42 281.55,315.5 282.5,312 C283.45,308.5 283.98,304.25 284.2,300 C284.42,295.75 284.33,290.67 283.8,286.5 C283.27,282.33 282.47,278.17 281,275 C279.53,271.83 277.83,269.42 275,267.5 C272.17,265.58 267.83,264.33 264,263.5 C260.17,262.67 256,262.5 252,262.5 Z" fill="#8e8e8e"/>
<clipPath id="bc"><path d="M252,262.5 C248,262.5 243.83,262.67 240,263.5 C236.17,264.33 231.83,265.58 229,267.5 C226.17,269.42 224.47,271.83 223,275 C221.53,278.17 220.73,282.33 220.2,286.5 C219.67,290.67 219.58,295.75 219.8,300 C220.02,304.25 220.55,308.5 221.5,312 C222.45,315.5 223.75,318.42 225.5,321 C227.25,323.58 229.33,325.7 232,327.5 C234.67,329.3 238.17,330.85 241.5,331.8 C244.83,332.75 248.5,333.2 252,333.2 C255.5,333.2 259.17,332.75 262.5,331.8 C265.83,330.85 269.33,329.3 272,327.5 C274.67,325.7 276.75,323.58 278.5,321 C280.25,318.42 281.55,315.5 282.5,312 C283.45,308.5 283.98,304.25 284.2,300 C284.42,295.75 284.33,290.67 283.8,286.5 C283.27,282.33 282.47,278.17 281,275 C279.53,271.83 277.83,269.42 275,267.5 C272.17,265.58 267.83,264.33 264,263.5 C260.17,262.67 256,262.5 252,262.5 Z"/></clipPath><g clip-path="url(#bc)">
<rect x="219" y="262" width="66" height="73" fill="#969696" filter="url(#nz)"/>
<path d="M252,262.5 C248,262.5 243.83,262.67 240,263.5 C236.17,264.33 231.83,265.58 229,267.5 C226.17,269.42 224.47,271.83 223,275 C221.53,278.17 220.73,282.33 220.2,286.5 C219.67,290.67 219.58,295.75 219.8,300 C220.02,304.25 220.55,308.5 221.5,312 C222.45,315.5 223.75,318.42 225.5,321 C227.25,323.58 229.33,325.7 232,327.5 C234.67,329.3 238.17,330.85 241.5,331.8 C244.83,332.75 248.5,333.2 252,333.2 C255.5,333.2 259.17,332.75 262.5,331.8 C265.83,330.85 269.33,329.3 272,327.5 C274.67,325.7 276.75,323.58 278.5,321 C280.25,318.42 281.55,315.5 282.5,312 C283.45,308.5 283.98,304.25 284.2,300 C284.42,295.75 284.33,290.67 283.8,286.5 C283.27,282.33 282.47,278.17 281,275 C279.53,271.83 277.83,269.42 275,267.5 C272.17,265.58 267.83,264.33 264,263.5 C260.17,262.67 256,262.5 252,262.5 Z" fill="none" stroke="#7c7c7c" stroke-width="2.2"/>
<path d="M224,292 l6,1 M223,300 l7,0 M224,309 l6,-1 M226,318 l6,-2 M280,292 l-6,1 M281,300 l-7,0 M280,309 l-6,-1 M278,318 l-6,-2 M240,326 l3,-5 M262,326 l-3,-5 M252,272 v8" stroke="#6a6a6a" stroke-width="0.9" fill="none"/>
<path d="M232,281 q1,8 -1,17 M271,280 q-1,8 1,16" stroke="#505050" stroke-width="1.4" fill="none"/>
<path d="M226,277 l7,-2 l2.5,8 l-7,2.5 Z" fill="#5a5a5a"/>
<ellipse cx="239" cy="267.5" rx="6" ry="3.2" fill="#3a3a3a"/><ellipse cx="265" cy="267.5" rx="6" ry="3.2" fill="#3a3a3a"/>
<ellipse cx="238.2" cy="309.5" rx="3.6" ry="6.8" fill="#4c4c4c" transform="rotate(-12 238.2 309.5)"/>
<ellipse cx="265" cy="310.5" rx="4.6" ry="8" fill="#4c4c4c" transform="rotate(14 265 310.5)"/>
<path d="M247.5,304 L252,317 L256.5,304 L252,309 Z" fill="#474747"/>
<path d="M250.6,313 L252,317.5 L253.4,313 Z" fill="#f0f0f0"/>
<circle cx="251.9" cy="292.3" r="2.9" fill="#f5f5f5"/>
<circle cx="251.6" cy="287.2" r="1.1" fill="#e6e6e6"/>
<circle cx="251.6" cy="283.6" r="0.9" fill="#d8d8d8"/>
<path d="M235.6,303.5 l3,-1.2 M262,302.6 l3.2,1" stroke="#f2f2f2" stroke-width="1.3"/>
<path d="M244.5,304.5 l3.5,3 M259.5,304.5 l-3.5,3" stroke="#e8e8e8" stroke-width="0.8"/>
</g>
</g>
<rect x="217.2" y="335.6" width="69" height="33.4" fill="#fff"/>
<rect x="217.7" y="268" width="68" height="100.6" fill="none" stroke="#000" stroke-width="1"/>
<line x1="217.2" y1="335.6" x2="286.2" y2="335.6" stroke="#000" stroke-width="1"/>
<text x="251.5" y="342.5" font-size="7" text-anchor="middle" textLength="38.5" lengthAdjust="spacingAndGlyphs" stroke="#231f20" stroke-width="0.06">Radiographic</text>
<text x="251.5" y="350.1" font-size="7" text-anchor="middle" textLength="61" lengthAdjust="spacingAndGlyphs" stroke="#231f20" stroke-width="0.06">differential diagnosis:</text>
<text x="251.5" y="357.7" font-size="7" text-anchor="middle" textLength="51.5" lengthAdjust="spacingAndGlyphs" stroke="#231f20" stroke-width="0.06">lymphoma vs high-</text>
<text x="251.5" y="365.3" font-size="7" text-anchor="middle" textLength="36.5" lengthAdjust="spacingAndGlyphs" stroke="#231f20" stroke-width="0.06">grade glioma</text>
<rect x="335" y="267.2" width="51.5" height="33.3" fill="#fff" stroke="#000" stroke-width="0.9"/>
<text x="360.8" y="274.6" font-size="6.8" text-anchor="middle" textLength="28" lengthAdjust="spacingAndGlyphs" stroke="#231f20" stroke-width="0.06">Cytology:</text>
<text x="360.8" y="282.3" font-size="6.8" text-anchor="middle" textLength="34.5" lengthAdjust="spacingAndGlyphs" stroke="#231f20" stroke-width="0.06">inconclusive</text>
<text x="360.8" y="290" font-size="6.8" text-anchor="middle" textLength="46" lengthAdjust="spacingAndGlyphs" stroke="#231f20" stroke-width="0.06">Flow cytometry:</text>
<text x="360.8" y="297.7" font-size="6.8" text-anchor="middle" textLength="25" lengthAdjust="spacingAndGlyphs" stroke="#231f20" stroke-width="0.06">negative</text>
<rect x="390.5" y="267.2" width="58.3" height="33.3" fill="#fff" stroke="#000" stroke-width="0.9"/>
<text x="419.6" y="274.6" font-size="6.8" text-anchor="middle" textLength="40" lengthAdjust="spacingAndGlyphs" stroke="#231f20" stroke-width="0.06">Intraoperative</text>
<text x="419.6" y="282.3" font-size="6.8" text-anchor="middle" textLength="50" lengthAdjust="spacingAndGlyphs" stroke="#231f20" stroke-width="0.06">frozen specimen:</text>
<text x="419.6" y="290" font-size="6.8" text-anchor="middle" textLength="37" lengthAdjust="spacingAndGlyphs" stroke="#231f20" stroke-width="0.06">lymphoma vs</text>
<text x="419.6" y="297.7" font-size="6.8" text-anchor="middle" textLength="19" lengthAdjust="spacingAndGlyphs" stroke="#231f20" stroke-width="0.06">glioma</text>
<rect x="462.5" y="267.2" width="50.6" height="33.5" fill="#fff" stroke="#000" stroke-width="0.9"/>
<text x="487.8" y="274.6" font-size="6.8" text-anchor="middle" textLength="32" lengthAdjust="spacingAndGlyphs" stroke="#231f20" stroke-width="0.06">Permanent</text>
<text x="487.8" y="282.3" font-size="6.8" text-anchor="middle" textLength="29" lengthAdjust="spacingAndGlyphs" stroke="#231f20" stroke-width="0.06">specimen:</text>
<text x="487.8" y="290" font-size="6.8" text-anchor="middle" textLength="45" lengthAdjust="spacingAndGlyphs" stroke="#231f20" stroke-width="0.06">MYD88 L265P-</text>
<text x="487.8" y="297.7" font-size="6.8" text-anchor="middle" textLength="46" lengthAdjust="spacingAndGlyphs" stroke="#231f20" stroke-width="0.06">positive PCNSL</text>
<line x1="351.2" y1="300.5" x2="351.2" y2="311.2" stroke="#000" stroke-width="0.9"/>
<line x1="369.2" y1="300.5" x2="369.2" y2="311.2" stroke="#000" stroke-width="0.9"/>
<line x1="419.5" y1="300.5" x2="419.5" y2="311.2" stroke="#000" stroke-width="0.9"/>
<line x1="487.4" y1="300.5" x2="487.4" y2="311.2" stroke="#000" stroke-width="0.9"/>
<line x1="297.2" y1="311.1" x2="386.9" y2="311.1" stroke="#000" stroke-width="1.2"/>
<line x1="401.2" y1="311.1" x2="431.9" y2="311.1" stroke="#000" stroke-width="1.2"/>
<line x1="445.8" y1="311.1" x2="466" y2="311.1" stroke="#000" stroke-width="1.2"/>
<line x1="480.1" y1="311.1" x2="512.3" y2="311.1" stroke="#000" stroke-width="1.2"/>
<circle cx="389.1" cy="311.1" r="1.15" fill="#000"/>
<circle cx="393.9" cy="311.1" r="1.15" fill="#000"/>
<circle cx="398.8" cy="311.1" r="1.15" fill="#000"/>
<circle cx="433.7" cy="311.1" r="1.15" fill="#000"/>
<circle cx="438.8" cy="311.1" r="1.15" fill="#000"/>
<circle cx="443.8" cy="311.1" r="1.15" fill="#000"/>
<circle cx="467.9" cy="311.1" r="1.15" fill="#000"/>
<circle cx="472.9" cy="311.1" r="1.15" fill="#000"/>
<circle cx="477.8" cy="311.1" r="1.15" fill="#000"/>
<line x1="297.8" y1="311.1" x2="297.8" y2="313.6" stroke="#000" stroke-width="0.9"/>
<line x1="315.4" y1="311.1" x2="315.4" y2="313.6" stroke="#000" stroke-width="0.9"/>
<line x1="333.3" y1="311.1" x2="333.3" y2="313.6" stroke="#000" stroke-width="0.9"/>
<line x1="456.5" y1="311.1" x2="456.5" y2="313.6" stroke="#000" stroke-width="0.9"/>
<text x="294" y="322.6" font-size="6.6" textLength="13.9" lengthAdjust="spacingAndGlyphs" stroke="#231f20" stroke-width="0.06">t = 0</text>
<text x="315.4" y="322.6" font-size="6.6" text-anchor="middle" textLength="3.4" lengthAdjust="spacingAndGlyphs" stroke="#231f20" stroke-width="0.06">1</text>
<text x="333.3" y="322.6" font-size="6.6" text-anchor="middle" textLength="3.4" lengthAdjust="spacingAndGlyphs" stroke="#231f20" stroke-width="0.06">2</text>
<text x="351.2" y="322.6" font-size="6.6" text-anchor="middle" textLength="3.4" lengthAdjust="spacingAndGlyphs" stroke="#231f20" stroke-width="0.06">3</text>
<text x="369.2" y="322.6" font-size="6.6" text-anchor="middle" textLength="3.4" lengthAdjust="spacingAndGlyphs" stroke="#231f20" stroke-width="0.06">4</text>
<text x="419.5" y="322.6" font-size="6.6" text-anchor="middle" textLength="6.8" lengthAdjust="spacingAndGlyphs" stroke="#231f20" stroke-width="0.06">11</text>
<text x="456.6" y="322.6" font-size="6.6" text-anchor="middle" textLength="6.8" lengthAdjust="spacingAndGlyphs" stroke="#231f20" stroke-width="0.06">15</text>
<text x="487.4" y="322.6" font-size="6.6" text-anchor="middle" textLength="6.8" lengthAdjust="spacingAndGlyphs" stroke="#231f20" stroke-width="0.06">20</text>
<text x="293.6" y="329.8" font-size="6.6" textLength="17.7" lengthAdjust="spacingAndGlyphs" stroke="#231f20" stroke-width="0.06">(days)</text>
<path d="M333.3,326 C334.57,329.01 336.48,329.67 336.48,331.42 A3.18,3.18 0 0 1 330.12,331.42 C330.12,329.67 332.03,329.01 333.3,326 Z" fill="#4b98de"/>
<path d="M332.5,333.39 A2.16,2.16 0 0 0 335.27,331.04" stroke="#fff" stroke-width="1.15" fill="none" stroke-opacity="0.9"/>
<path d="M351.2,326 C352.47,329.01 354.38,329.67 354.38,331.42 A3.18,3.18 0 0 1 348.02,331.42 C348.02,329.67 349.93,329.01 351.2,326 Z" fill="#4b98de"/>
<path d="M350.4,333.39 A2.16,2.16 0 0 0 353.17,331.04" stroke="#fff" stroke-width="1.15" fill="none" stroke-opacity="0.9"/>
<circle cx="419.5" cy="330.2" r="3.3" fill="none" stroke="#000" stroke-width="1"/>
<circle cx="456.6" cy="330.2" r="3.6" fill="#e0951f"/>
<line x1="317" y1="348.6" x2="482" y2="348.6" stroke="#222" stroke-width="1.2"/>
<path d="M319.6,355.6 C320.78,358.4 322.56,359.01 322.56,360.64 A2.96,2.96 0 0 1 316.64,360.64 C316.64,359.01 318.42,358.4 319.6,355.6 Z" fill="#4b98de"/>
<path d="M318.86,362.48 A2.01,2.01 0 0 0 321.44,360.28" stroke="#fff" stroke-width="1.07" fill="none" stroke-opacity="0.9"/>
<text x="326.5" y="361.9" font-size="5.4" textLength="29.6" lengthAdjust="spacingAndGlyphs" stroke="#231f20" stroke-width="0.1">CSF analysis</text>
<circle cx="374.1" cy="360.2" r="3.6" fill="none" stroke="#000" stroke-width="1"/>
<text x="381.5" y="361.9" font-size="5.4" textLength="15.7" lengthAdjust="spacingAndGlyphs" stroke="#231f20" stroke-width="0.1">Biopsy</text>
<circle cx="411.1" cy="360.2" r="3.8" fill="#e0951f"/>
<text x="418.7" y="361.9" font-size="5.4" textLength="57.3" lengthAdjust="spacingAndGlyphs" stroke="#231f20" stroke-width="0.1">Chemotherapy initiated</text>
<text x="7.5" y="405.4" font-size="10.8" textLength="8" lengthAdjust="spacingAndGlyphs" font-weight="bold" fill="#000" stroke="#000" stroke-width="0.06">D</text>
<text x="220.1" y="417.6" font-size="8.7" textLength="138.4" lengthAdjust="spacingAndGlyphs" stroke="#231f20" stroke-width="0.06">Archived clinical specimens (N = 71)</text>
<line x1="79.3" y1="422.35" x2="499.2" y2="422.35" stroke="#000" stroke-width="1.3"/>
<rect x="80" y="425.3" width="5.9" height="11.4" fill="#dda0dd"/>
<rect x="85.9" y="425.3" width="5.9" height="11.4" fill="#dda0dd"/>
<rect x="91.81" y="425.3" width="5.9" height="11.4" fill="#dda0dd"/>
<rect x="97.71" y="425.3" width="5.9" height="11.4" fill="#dda0dd"/>
<rect x="103.62" y="425.3" width="5.9" height="11.4" fill="#dda0dd"/>
<rect x="109.52" y="425.3" width="5.9" height="11.4" fill="#dda0dd"/>
<rect x="115.43" y="425.3" width="5.9" height="11.4" fill="#dda0dd"/>
<rect x="121.33" y="425.3" width="5.9" height="11.4" fill="#dda0dd"/>
<rect x="127.23" y="425.3" width="5.9" height="11.4" fill="#9400d3"/>
<rect x="133.14" y="425.3" width="5.9" height="11.4" fill="#9400d3"/>
<rect x="139.04" y="425.3" width="5.9" height="11.4" fill="#9400d3"/>
<rect x="144.95" y="425.3" width="5.9" height="11.4" fill="#9400d3"/>
<rect x="150.85" y="425.3" width="5.9" height="11.4" fill="#9400d3"/>
<rect x="156.75" y="425.3" width="5.9" height="11.4" fill="#9400d3"/>
<rect x="162.66" y="425.3" width="5.9" height="11.4" fill="#9400d3"/>
<rect x="168.56" y="425.3" width="5.9" height="11.4" fill="#9400d3"/>
<rect x="174.47" y="425.3" width="5.9" height="11.4" fill="#9400d3"/>
<rect x="180.37" y="425.3" width="5.9" height="11.4" fill="#9400d3"/>
<rect x="186.28" y="425.3" width="5.9" height="11.4" fill="#9400d3"/>
<rect x="192.18" y="425.3" width="5.9" height="11.4" fill="#9400d3"/>
<rect x="198.08" y="425.3" width="5.9" height="11.4" fill="#9400d3"/>
<rect x="203.99" y="425.3" width="5.9" height="11.4" fill="#9400d3"/>
<rect x="209.89" y="425.3" width="5.9" height="11.4" fill="#9400d3"/>
<rect x="215.8" y="425.3" width="5.9" height="11.4" fill="#9400d3"/>
<rect x="221.7" y="425.3" width="5.9" height="11.4" fill="#9400d3"/>
<rect x="227.61" y="425.3" width="5.9" height="11.4" fill="#9400d3"/>
<rect x="233.51" y="425.3" width="5.9" height="11.4" fill="#9400d3"/>
<rect x="239.41" y="425.3" width="5.9" height="11.4" fill="#9400d3"/>
<rect x="245.32" y="425.3" width="5.9" height="11.4" fill="#9400d3"/>
<rect x="251.22" y="425.3" width="5.9" height="11.4" fill="#9400d3"/>
<rect x="257.13" y="425.3" width="5.9" height="11.4" fill="#9400d3"/>
<rect x="263.03" y="425.3" width="5.9" height="11.4" fill="#9400d3"/>
<rect x="268.94" y="425.3" width="5.9" height="11.4" fill="#9400d3"/>
<rect x="274.84" y="425.3" width="5.9" height="11.4" fill="#9400d3"/>
<rect x="280.74" y="425.3" width="5.9" height="11.4" fill="#9400d3"/>
<rect x="286.65" y="425.3" width="5.9" height="11.4" fill="#9400d3"/>
<rect x="292.55" y="425.3" width="5.9" height="11.4" fill="#9400d3"/>
<rect x="298.46" y="425.3" width="5.9" height="11.4" fill="#9400d3"/>
<rect x="304.36" y="425.3" width="5.9" height="11.4" fill="#9acd32"/>
<rect x="310.26" y="425.3" width="5.9" height="11.4" fill="#9acd32"/>
<rect x="316.17" y="425.3" width="5.9" height="11.4" fill="#9acd32"/>
<rect x="322.07" y="425.3" width="5.9" height="11.4" fill="#9acd32"/>
<rect x="327.98" y="425.3" width="5.9" height="11.4" fill="#9acd32"/>
<rect x="333.88" y="425.3" width="5.9" height="11.4" fill="#9acd32"/>
<rect x="339.79" y="425.3" width="5.9" height="11.4" fill="#9acd32"/>
<rect x="345.69" y="425.3" width="5.9" height="11.4" fill="#9acd32"/>
<rect x="351.59" y="425.3" width="5.9" height="11.4" fill="#9acd32"/>
<rect x="357.5" y="425.3" width="5.9" height="11.4" fill="#9acd32"/>
<rect x="363.4" y="425.3" width="5.9" height="11.4" fill="#b0283a"/>
<rect x="369.31" y="425.3" width="5.9" height="11.4" fill="#b0283a"/>
<rect x="375.21" y="425.3" width="5.9" height="11.4" fill="#b0283a"/>
<rect x="381.12" y="425.3" width="5.9" height="11.4" fill="#b0283a"/>
<rect x="387.02" y="425.3" width="5.9" height="11.4" fill="#b0283a"/>
<rect x="392.92" y="425.3" width="5.9" height="11.4" fill="#b0283a"/>
<rect x="398.83" y="425.3" width="5.9" height="11.4" fill="#b0283a"/>
<rect x="404.73" y="425.3" width="5.9" height="11.4" fill="#b0283a"/>
<rect x="410.64" y="425.3" width="5.9" height="11.4" fill="#b0283a"/>
<rect x="416.54" y="425.3" width="5.9" height="11.4" fill="#fa8072"/>
<rect x="422.45" y="425.3" width="5.9" height="11.4" fill="#fa8072"/>
<rect x="428.35" y="425.3" width="5.9" height="11.4" fill="#fa8072"/>
<rect x="434.25" y="425.3" width="5.9" height="11.4" fill="#ffa500"/>
<rect x="440.16" y="425.3" width="5.9" height="11.4" fill="#ffa500"/>
<rect x="446.06" y="425.3" width="5.9" height="11.4" fill="#ffa500"/>
<rect x="451.97" y="425.3" width="5.9" height="11.4" fill="#ffa500"/>
<rect x="457.87" y="425.3" width="5.9" height="11.4" fill="#ffa500"/>
<rect x="463.77" y="425.3" width="5.9" height="11.4" fill="#ffa500"/>
<rect x="469.68" y="425.3" width="5.9" height="11.4" fill="#ffa500"/>
<rect x="475.58" y="425.3" width="5.9" height="11.4" fill="#bdb76b"/>
<rect x="481.49" y="425.3" width="5.9" height="11.4" fill="#008b8b"/>
<rect x="487.39" y="425.3" width="5.9" height="11.4" fill="#a9a9a9"/>
<rect x="493.3" y="425.3" width="5.9" height="11.4" fill="#1e88d8"/>
<rect x="80" y="439.3" width="5.9" height="11.3" fill="#8b4513"/>
<rect x="85.9" y="439.3" width="5.9" height="11.3" fill="#8b4513"/>
<rect x="91.81" y="439.3" width="5.9" height="11.3" fill="#8b4513"/>
<rect x="97.71" y="439.3" width="5.9" height="11.3" fill="#8b4513"/>
<rect x="103.62" y="439.3" width="5.9" height="11.3" fill="#8b4513"/>
<rect x="109.52" y="439.3" width="5.9" height="11.3" fill="#8b4513"/>
<rect x="115.43" y="439.3" width="5.9" height="11.3" fill="#8b4513"/>
<rect x="121.33" y="439.3" width="5.9" height="11.3" fill="#8b4513"/>
<rect x="127.23" y="439.3" width="5.9" height="11.3" fill="#8b4513"/>
<rect x="133.14" y="439.3" width="5.9" height="11.3" fill="#8b4513"/>
<rect x="139.04" y="439.3" width="5.9" height="11.3" fill="#8b4513"/>
<rect x="144.95" y="439.3" width="5.9" height="11.3" fill="#8b4513"/>
<rect x="150.85" y="439.3" width="5.9" height="11.3" fill="#8b4513"/>
<rect x="156.75" y="439.3" width="5.9" height="11.3" fill="#8b4513"/>
<rect x="162.66" y="439.3" width="5.9" height="11.3" fill="#8b4513"/>
<rect x="168.56" y="439.3" width="5.9" height="11.3" fill="#8b4513"/>
<rect x="174.47" y="439.3" width="5.9" height="11.3" fill="#8b4513"/>
<rect x="180.37" y="439.3" width="5.9" height="11.3" fill="#8b4513"/>
<rect x="186.28" y="439.3" width="5.9" height="11.3" fill="#8b4513"/>
<rect x="192.18" y="439.3" width="5.9" height="11.3" fill="#8b4513"/>
<rect x="198.08" y="439.3" width="5.9" height="11.3" fill="#8b4513"/>
<rect x="203.99" y="439.3" width="5.9" height="11.3" fill="#8b4513"/>
<rect x="209.89" y="439.3" width="5.9" height="11.3" fill="#8b4513"/>
<rect x="215.8" y="439.3" width="5.9" height="11.3" fill="#8b4513"/>
<rect x="221.7" y="439.3" width="5.9" height="11.3" fill="#d2b48c"/>
<rect x="227.61" y="439.3" width="5.9" height="11.3" fill="#d2b48c"/>
<rect x="233.51" y="439.3" width="5.9" height="11.3" fill="#d2b48c"/>
<rect x="239.41" y="439.3" width="5.9" height="11.3" fill="#d2b48c"/>
<rect x="245.32" y="439.3" width="5.9" height="11.3" fill="#d2b48c"/>
<rect x="251.22" y="439.3" width="5.9" height="11.3" fill="#d2b48c"/>
<rect x="257.13" y="439.3" width="5.9" height="11.3" fill="#d2b48c"/>
<rect x="263.03" y="439.3" width="5.9" height="11.3" fill="#d2b48c"/>
<rect x="268.94" y="439.3" width="5.9" height="11.3" fill="#d2b48c"/>
<rect x="274.84" y="439.3" width="5.9" height="11.3" fill="#d2b48c"/>
<rect x="280.74" y="439.3" width="5.9" height="11.3" fill="#d2b48c"/>
<rect x="286.65" y="439.3" width="5.9" height="11.3" fill="#d2b48c"/>
<rect x="292.55" y="439.3" width="5.9" height="11.3" fill="#d2b48c"/>
<rect x="298.46" y="439.3" width="5.9" height="11.3" fill="#d2b48c"/>
<rect x="304.36" y="439.3" width="5.9" height="11.3" fill="#d2b48c"/>
<rect x="310.26" y="439.3" width="5.9" height="11.3" fill="#d2b48c"/>
<rect x="316.17" y="439.3" width="5.9" height="11.3" fill="#d2b48c"/>
<rect x="322.07" y="439.3" width="5.9" height="11.3" fill="#d2b48c"/>
<rect x="327.98" y="439.3" width="5.9" height="11.3" fill="#d2b48c"/>
<rect x="333.88" y="439.3" width="5.9" height="11.3" fill="#d2b48c"/>
<rect x="339.79" y="439.3" width="5.9" height="11.3" fill="#d2b48c"/>
<rect x="345.69" y="439.3" width="5.9" height="11.3" fill="#d2b48c"/>
<rect x="351.59" y="439.3" width="5.9" height="11.3" fill="#d2b48c"/>
<rect x="357.5" y="439.3" width="5.9" height="11.3" fill="#ffe0ad"/>
<rect x="363.4" y="439.3" width="5.9" height="11.3" fill="#d2b48c"/>
<rect x="369.31" y="439.3" width="5.9" height="11.3" fill="#d2b48c"/>
<rect x="375.21" y="439.3" width="5.9" height="11.3" fill="#d2b48c"/>
<rect x="381.12" y="439.3" width="5.9" height="11.3" fill="#d2b48c"/>
<rect x="387.02" y="439.3" width="5.9" height="11.3" fill="#d2b48c"/>
<rect x="392.92" y="439.3" width="5.9" height="11.3" fill="#d2b48c"/>
<rect x="398.83" y="439.3" width="5.9" height="11.3" fill="#d2b48c"/>
<rect x="404.73" y="439.3" width="5.9" height="11.3" fill="#d2b48c"/>
<rect x="410.64" y="439.3" width="5.9" height="11.3" fill="#d2b48c"/>
<rect x="416.54" y="439.3" width="5.9" height="11.3" fill="#d2b48c"/>
<rect x="422.45" y="439.3" width="5.9" height="11.3" fill="#d2b48c"/>
<rect x="428.35" y="439.3" width="5.9" height="11.3" fill="#d2b48c"/>
<rect x="434.25" y="439.3" width="5.9" height="11.3" fill="#d2b48c"/>
<rect x="440.16" y="439.3" width="5.9" height="11.3" fill="#d2b48c"/>
<rect x="446.06" y="439.3" width="5.9" height="11.3" fill="#d2b48c"/>
<rect x="451.97" y="439.3" width="5.9" height="11.3" fill="#d2b48c"/>
<rect x="457.87" y="439.3" width="5.9" height="11.3" fill="#d2b48c"/>
<rect x="463.77" y="439.3" width="5.9" height="11.3" fill="#d2b48c"/>
<rect x="469.68" y="439.3" width="5.9" height="11.3" fill="#d2b48c"/>
<rect x="475.58" y="439.3" width="5.9" height="11.3" fill="#d2b48c"/>
<rect x="481.49" y="439.3" width="5.9" height="11.3" fill="#d2b48c"/>
<rect x="487.39" y="439.3" width="5.9" height="11.3" fill="#d2b48c"/>
<rect x="493.3" y="439.3" width="5.9" height="11.3" fill="#d2b48c"/>
<rect x="80" y="450.6" width="5.9" height="11.3" fill="#d2b48c"/>
<rect x="85.9" y="450.6" width="5.9" height="11.3" fill="#d2b48c"/>
<rect x="91.81" y="450.6" width="5.9" height="11.3" fill="#d2b48c"/>
<rect x="97.71" y="450.6" width="5.9" height="11.3" fill="#d2b48c"/>
<rect x="103.62" y="450.6" width="5.9" height="11.3" fill="#d2b48c"/>
<rect x="109.52" y="450.6" width="5.9" height="11.3" fill="#d2b48c"/>
<rect x="115.43" y="450.6" width="5.9" height="11.3" fill="#d2b48c"/>
<rect x="121.33" y="450.6" width="5.9" height="11.3" fill="#ffe0ad"/>
<rect x="127.23" y="450.6" width="5.9" height="11.3" fill="#d2b48c"/>
<rect x="133.14" y="450.6" width="5.9" height="11.3" fill="#d2b48c"/>
<rect x="139.04" y="450.6" width="5.9" height="11.3" fill="#d2b48c"/>
<rect x="144.95" y="450.6" width="5.9" height="11.3" fill="#d2b48c"/>
<rect x="150.85" y="450.6" width="5.9" height="11.3" fill="#d2b48c"/>
<rect x="156.75" y="450.6" width="5.9" height="11.3" fill="#d2b48c"/>
<rect x="162.66" y="450.6" width="5.9" height="11.3" fill="#d2b48c"/>
<rect x="168.56" y="450.6" width="5.9" height="11.3" fill="#d2b48c"/>
<rect x="174.47" y="450.6" width="5.9" height="11.3" fill="#d2b48c"/>
<rect x="180.37" y="450.6" width="5.9" height="11.3" fill="#d2b48c"/>
<rect x="186.28" y="450.6" width="5.9" height="11.3" fill="#d2b48c"/>
<rect x="192.18" y="450.6" width="5.9" height="11.3" fill="#d2b48c"/>
<rect x="198.08" y="450.6" width="5.9" height="11.3" fill="#d2b48c"/>
<rect x="203.99" y="450.6" width="5.9" height="11.3" fill="#d2b48c"/>
<rect x="209.89" y="450.6" width="5.9" height="11.3" fill="#d2b48c"/>
<rect x="215.8" y="450.6" width="5.9" height="11.3" fill="#d2b48c"/>
<rect x="221.7" y="450.6" width="5.9" height="11.3" fill="#d2b48c"/>
<rect x="227.61" y="450.6" width="5.9" height="11.3" fill="#d2b48c"/>
<rect x="233.51" y="450.6" width="5.9" height="11.3" fill="#d2b48c"/>
<rect x="239.41" y="450.6" width="5.9" height="11.3" fill="#d2b48c"/>
<rect x="245.32" y="450.6" width="5.9" height="11.3" fill="#d2b48c"/>
<rect x="251.22" y="450.6" width="5.9" height="11.3" fill="#d2b48c"/>
<rect x="257.13" y="450.6" width="5.9" height="11.3" fill="#d2b48c"/>
<rect x="263.03" y="450.6" width="5.9" height="11.3" fill="#d2b48c"/>
<rect x="268.94" y="450.6" width="5.9" height="11.3" fill="#d2b48c"/>
<rect x="274.84" y="450.6" width="5.9" height="11.3" fill="#d2b48c"/>
<rect x="280.74" y="450.6" width="5.9" height="11.3" fill="#d2b48c"/>
<rect x="286.65" y="450.6" width="5.9" height="11.3" fill="#d2b48c"/>
<rect x="292.55" y="450.6" width="5.9" height="11.3" fill="#d2b48c"/>
<rect x="298.46" y="450.6" width="5.9" height="11.3" fill="#d2b48c"/>
<rect x="304.36" y="450.6" width="5.9" height="11.3" fill="#8b4513"/>
<rect x="310.26" y="450.6" width="5.9" height="11.3" fill="#8b4513"/>
<rect x="316.17" y="450.6" width="5.9" height="11.3" fill="#8b4513"/>
<rect x="322.07" y="450.6" width="5.9" height="11.3" fill="#8b4513"/>
<rect x="327.98" y="450.6" width="5.9" height="11.3" fill="#d2b48c"/>
<rect x="333.88" y="450.6" width="5.9" height="11.3" fill="#d2b48c"/>
<rect x="339.79" y="450.6" width="5.9" height="11.3" fill="#d2b48c"/>
<rect x="345.69" y="450.6" width="5.9" height="11.3" fill="#d2b48c"/>
<rect x="351.59" y="450.6" width="5.9" height="11.3" fill="#d2b48c"/>
<rect x="357.5" y="450.6" width="5.9" height="11.3" fill="#d2b48c"/>
<rect x="363.4" y="450.6" width="5.9" height="11.3" fill="#d2b48c"/>
<rect x="369.31" y="450.6" width="5.9" height="11.3" fill="#d2b48c"/>
<rect x="375.21" y="450.6" width="5.9" height="11.3" fill="#d2b48c"/>
<rect x="381.12" y="450.6" width="5.9" height="11.3" fill="#d2b48c"/>
<rect x="387.02" y="450.6" width="5.9" height="11.3" fill="#d2b48c"/>
<rect x="392.92" y="450.6" width="5.9" height="11.3" fill="#d2b48c"/>
<rect x="398.83" y="450.6" width="5.9" height="11.3" fill="#d2b48c"/>
<rect x="404.73" y="450.6" width="5.9" height="11.3" fill="#d2b48c"/>
<rect x="410.64" y="450.6" width="5.9" height="11.3" fill="#d2b48c"/>
<rect x="416.54" y="450.6" width="5.9" height="11.3" fill="#8b4513"/>
<rect x="422.45" y="450.6" width="5.9" height="11.3" fill="#8b4513"/>
<rect x="428.35" y="450.6" width="5.9" height="11.3" fill="#8b4513"/>
<rect x="434.25" y="450.6" width="5.9" height="11.3" fill="#8b4513"/>
<rect x="440.16" y="450.6" width="5.9" height="11.3" fill="#8b4513"/>
<rect x="446.06" y="450.6" width="5.9" height="11.3" fill="#8b4513"/>
<rect x="451.97" y="450.6" width="5.9" height="11.3" fill="#8b4513"/>
<rect x="457.87" y="450.6" width="5.9" height="11.3" fill="#8b4513"/>
<rect x="463.77" y="450.6" width="5.9" height="11.3" fill="#8b4513"/>
<rect x="469.68" y="450.6" width="5.9" height="11.3" fill="#d2b48c"/>
<rect x="475.58" y="450.6" width="5.9" height="11.3" fill="#d2b48c"/>
<rect x="481.49" y="450.6" width="5.9" height="11.3" fill="#d2b48c"/>
<rect x="487.39" y="450.6" width="5.9" height="11.3" fill="#d2b48c"/>
<rect x="493.3" y="450.6" width="5.9" height="11.3" fill="#8b4513"/>
<rect x="80" y="461.9" width="5.9" height="11.3" fill="#d2b48c"/>
<rect x="85.9" y="461.9" width="5.9" height="11.3" fill="#d2b48c"/>
<rect x="91.81" y="461.9" width="5.9" height="11.3" fill="#d2b48c"/>
<rect x="97.71" y="461.9" width="5.9" height="11.3" fill="#d2b48c"/>
<rect x="103.62" y="461.9" width="5.9" height="11.3" fill="#d2b48c"/>
<rect x="109.52" y="461.9" width="5.9" height="11.3" fill="#d2b48c"/>
<rect x="115.43" y="461.9" width="5.9" height="11.3" fill="#d2b48c"/>
<rect x="121.33" y="461.9" width="5.9" height="11.3" fill="#d2b48c"/>
<rect x="127.23" y="461.9" width="5.9" height="11.3" fill="#d2b48c"/>
<rect x="133.14" y="461.9" width="5.9" height="11.3" fill="#d2b48c"/>
<rect x="139.04" y="461.9" width="5.9" height="11.3" fill="#d2b48c"/>
<rect x="144.95" y="461.9" width="5.9" height="11.3" fill="#d2b48c"/>
<rect x="150.85" y="461.9" width="5.9" height="11.3" fill="#d2b48c"/>
<rect x="156.75" y="461.9" width="5.9" height="11.3" fill="#d2b48c"/>
<rect x="162.66" y="461.9" width="5.9" height="11.3" fill="#d2b48c"/>
<rect x="168.56" y="461.9" width="5.9" height="11.3" fill="#d2b48c"/>
<rect x="174.47" y="461.9" width="5.9" height="11.3" fill="#d2b48c"/>
<rect x="180.37" y="461.9" width="5.9" height="11.3" fill="#d2b48c"/>
<rect x="186.28" y="461.9" width="5.9" height="11.3" fill="#d2b48c"/>
<rect x="192.18" y="461.9" width="5.9" height="11.3" fill="#d2b48c"/>
<rect x="198.08" y="461.9" width="5.9" height="11.3" fill="#d2b48c"/>
<rect x="203.99" y="461.9" width="5.9" height="11.3" fill="#d2b48c"/>
<rect x="209.89" y="461.9" width="5.9" height="11.3" fill="#d2b48c"/>
<rect x="215.8" y="461.9" width="5.9" height="11.3" fill="#d2b48c"/>
<rect x="221.7" y="461.9" width="5.9" height="11.3" fill="#d2b48c"/>
<rect x="227.61" y="461.9" width="5.9" height="11.3" fill="#d2b48c"/>
<rect x="233.51" y="461.9" width="5.9" height="11.3" fill="#d2b48c"/>
<rect x="239.41" y="461.9" width="5.9" height="11.3" fill="#d2b48c"/>
<rect x="245.32" y="461.9" width="5.9" height="11.3" fill="#d2b48c"/>
<rect x="251.22" y="461.9" width="5.9" height="11.3" fill="#d2b48c"/>
<rect x="257.13" y="461.9" width="5.9" height="11.3" fill="#d2b48c"/>
<rect x="263.03" y="461.9" width="5.9" height="11.3" fill="#d2b48c"/>
<rect x="268.94" y="461.9" width="5.9" height="11.3" fill="#d2b48c"/>
<rect x="274.84" y="461.9" width="5.9" height="11.3" fill="#d2b48c"/>
<rect x="280.74" y="461.9" width="5.9" height="11.3" fill="#d2b48c"/>
<rect x="286.65" y="461.9" width="5.9" height="11.3" fill="#d2b48c"/>
<rect x="292.55" y="461.9" width="5.9" height="11.3" fill="#d2b48c"/>
<rect x="298.46" y="461.9" width="5.9" height="11.3" fill="#ffe0ad"/>
<rect x="304.36" y="461.9" width="5.9" height="11.3" fill="#d2b48c"/>
<rect x="310.26" y="461.9" width="5.9" height="11.3" fill="#d2b48c"/>
<rect x="316.17" y="461.9" width="5.9" height="11.3" fill="#d2b48c"/>
<rect x="322.07" y="461.9" width="5.9" height="11.3" fill="#d2b48c"/>
<rect x="327.98" y="461.9" width="5.9" height="11.3" fill="#8b4513"/>
<rect x="333.88" y="461.9" width="5.9" height="11.3" fill="#8b4513"/>
<rect x="339.79" y="461.9" width="5.9" height="11.3" fill="#8b4513"/>
<rect x="345.69" y="461.9" width="5.9" height="11.3" fill="#8b4513"/>
<rect x="351.59" y="461.9" width="5.9" height="11.3" fill="#d2b48c"/>
<rect x="357.5" y="461.9" width="5.9" height="11.3" fill="#8b4513"/>
<rect x="363.4" y="461.9" width="5.9" height="11.3" fill="#8b4513"/>
<rect x="369.31" y="461.9" width="5.9" height="11.3" fill="#8b4513"/>
<rect x="375.21" y="461.9" width="5.9" height="11.3" fill="#8b4513"/>
<rect x="381.12" y="461.9" width="5.9" height="11.3" fill="#8b4513"/>
<rect x="387.02" y="461.9" width="5.9" height="11.3" fill="#8b4513"/>
<rect x="392.92" y="461.9" width="5.9" height="11.3" fill="#8b4513"/>
<rect x="398.83" y="461.9" width="5.9" height="11.3" fill="#8b4513"/>
<rect x="404.73" y="461.9" width="5.9" height="11.3" fill="#8b4513"/>
<rect x="410.64" y="461.9" width="5.9" height="11.3" fill="#d2b48c"/>
<rect x="416.54" y="461.9" width="5.9" height="11.3" fill="#d2b48c"/>
<rect x="422.45" y="461.9" width="5.9" height="11.3" fill="#d2b48c"/>
<rect x="428.35" y="461.9" width="5.9" height="11.3" fill="#d2b48c"/>
<rect x="434.25" y="461.9" width="5.9" height="11.3" fill="#d2b48c"/>
<rect x="440.16" y="461.9" width="5.9" height="11.3" fill="#d2b48c"/>
<rect x="446.06" y="461.9" width="5.9" height="11.3" fill="#8b4513"/>
<rect x="451.97" y="461.9" width="5.9" height="11.3" fill="#d2b48c"/>
<rect x="457.87" y="461.9" width="5.9" height="11.3" fill="#d2b48c"/>
<rect x="463.77" y="461.9" width="5.9" height="11.3" fill="#d2b48c"/>
<rect x="469.68" y="461.9" width="5.9" height="11.3" fill="#8b4513"/>
<rect x="475.58" y="461.9" width="5.9" height="11.3" fill="#d2b48c"/>
<rect x="481.49" y="461.9" width="5.9" height="11.3" fill="#8b4513"/>
<rect x="487.39" y="461.9" width="5.9" height="11.3" fill="#d2b48c"/>
<rect x="493.3" y="461.9" width="5.9" height="11.3" fill="#d2b48c"/>
<rect x="80" y="473.2" width="5.9" height="11.3" fill="#d2b48c"/>
<rect x="85.9" y="473.2" width="5.9" height="11.3" fill="#d2b48c"/>
<rect x="91.81" y="473.2" width="5.9" height="11.3" fill="#d2b48c"/>
<rect x="97.71" y="473.2" width="5.9" height="11.3" fill="#d2b48c"/>
<rect x="103.62" y="473.2" width="5.9" height="11.3" fill="#d2b48c"/>
<rect x="109.52" y="473.2" width="5.9" height="11.3" fill="#d2b48c"/>
<rect x="115.43" y="473.2" width="5.9" height="11.3" fill="#d2b48c"/>
<rect x="121.33" y="473.2" width="5.9" height="11.3" fill="#ffe0ad"/>
<rect x="127.23" y="473.2" width="5.9" height="11.3" fill="#d2b48c"/>
<rect x="133.14" y="473.2" width="5.9" height="11.3" fill="#d2b48c"/>
<rect x="139.04" y="473.2" width="5.9" height="11.3" fill="#d2b48c"/>
<rect x="144.95" y="473.2" width="5.9" height="11.3" fill="#d2b48c"/>
<rect x="150.85" y="473.2" width="5.9" height="11.3" fill="#d2b48c"/>
<rect x="156.75" y="473.2" width="5.9" height="11.3" fill="#d2b48c"/>
<rect x="162.66" y="473.2" width="5.9" height="11.3" fill="#d2b48c"/>
<rect x="168.56" y="473.2" width="5.9" height="11.3" fill="#d2b48c"/>
<rect x="174.47" y="473.2" width="5.9" height="11.3" fill="#d2b48c"/>
<rect x="180.37" y="473.2" width="5.9" height="11.3" fill="#d2b48c"/>
<rect x="186.28" y="473.2" width="5.9" height="11.3" fill="#d2b48c"/>
<rect x="192.18" y="473.2" width="5.9" height="11.3" fill="#d2b48c"/>
<rect x="198.08" y="473.2" width="5.9" height="11.3" fill="#d2b48c"/>
<rect x="203.99" y="473.2" width="5.9" height="11.3" fill="#d2b48c"/>
<rect x="209.89" y="473.2" width="5.9" height="11.3" fill="#ffe0ad"/>
<rect x="215.8" y="473.2" width="5.9" height="11.3" fill="#ffe0ad"/>
<rect x="221.7" y="473.2" width="5.9" height="11.3" fill="#d2b48c"/>
<rect x="227.61" y="473.2" width="5.9" height="11.3" fill="#d2b48c"/>
<rect x="233.51" y="473.2" width="5.9" height="11.3" fill="#d2b48c"/>
<rect x="239.41" y="473.2" width="5.9" height="11.3" fill="#d2b48c"/>
<rect x="245.32" y="473.2" width="5.9" height="11.3" fill="#d2b48c"/>
<rect x="251.22" y="473.2" width="5.9" height="11.3" fill="#d2b48c"/>
<rect x="257.13" y="473.2" width="5.9" height="11.3" fill="#d2b48c"/>
<rect x="263.03" y="473.2" width="5.9" height="11.3" fill="#d2b48c"/>
<rect x="268.94" y="473.2" width="5.9" height="11.3" fill="#d2b48c"/>
<rect x="274.84" y="473.2" width="5.9" height="11.3" fill="#d2b48c"/>
<rect x="280.74" y="473.2" width="5.9" height="11.3" fill="#d2b48c"/>
<rect x="286.65" y="473.2" width="5.9" height="11.3" fill="#d2b48c"/>
<rect x="292.55" y="473.2" width="5.9" height="11.3" fill="#d2b48c"/>
<rect x="298.46" y="473.2" width="5.9" height="11.3" fill="#d2b48c"/>
<rect x="304.36" y="473.2" width="5.9" height="11.3" fill="#d2b48c"/>
<rect x="310.26" y="473.2" width="5.9" height="11.3" fill="#d2b48c"/>
<rect x="316.17" y="473.2" width="5.9" height="11.3" fill="#d2b48c"/>
<rect x="322.07" y="473.2" width="5.9" height="11.3" fill="#d2b48c"/>
<rect x="327.98" y="473.2" width="5.9" height="11.3" fill="#d2b48c"/>
<rect x="333.88" y="473.2" width="5.9" height="11.3" fill="#d2b48c"/>
<rect x="339.79" y="473.2" width="5.9" height="11.3" fill="#d2b48c"/>
<rect x="345.69" y="473.2" width="5.9" height="11.3" fill="#d2b48c"/>
<rect x="351.59" y="473.2" width="5.9" height="11.3" fill="#8b4513"/>
<rect x="357.5" y="473.2" width="5.9" height="11.3" fill="#ffe0ad"/>
<rect x="363.4" y="473.2" width="5.9" height="11.3" fill="#d2b48c"/>
<rect x="369.31" y="473.2" width="5.9" height="11.3" fill="#d2b48c"/>
<rect x="375.21" y="473.2" width="5.9" height="11.3" fill="#d2b48c"/>
<rect x="381.12" y="473.2" width="5.9" height="11.3" fill="#d2b48c"/>
<rect x="387.02" y="473.2" width="5.9" height="11.3" fill="#d2b48c"/>
<rect x="392.92" y="473.2" width="5.9" height="11.3" fill="#d2b48c"/>
<rect x="398.83" y="473.2" width="5.9" height="11.3" fill="#d2b48c"/>
<rect x="404.73" y="473.2" width="5.9" height="11.3" fill="#d2b48c"/>
<rect x="410.64" y="473.2" width="5.9" height="11.3" fill="#d2b48c"/>
<rect x="416.54" y="473.2" width="5.9" height="11.3" fill="#d2b48c"/>
<rect x="422.45" y="473.2" width="5.9" height="11.3" fill="#d2b48c"/>
<rect x="428.35" y="473.2" width="5.9" height="11.3" fill="#d2b48c"/>
<rect x="434.25" y="473.2" width="5.9" height="11.3" fill="#d2b48c"/>
<rect x="440.16" y="473.2" width="5.9" height="11.3" fill="#ffe0ad"/>
<rect x="446.06" y="473.2" width="5.9" height="11.3" fill="#d2b48c"/>
<rect x="451.97" y="473.2" width="5.9" height="11.3" fill="#d2b48c"/>
<rect x="457.87" y="473.2" width="5.9" height="11.3" fill="#d2b48c"/>
<rect x="463.77" y="473.2" width="5.9" height="11.3" fill="#d2b48c"/>
<rect x="469.68" y="473.2" width="5.9" height="11.3" fill="#d2b48c"/>
<rect x="475.58" y="473.2" width="5.9" height="11.3" fill="#d2b48c"/>
<rect x="481.49" y="473.2" width="5.9" height="11.3" fill="#d2b48c"/>
<rect x="487.39" y="473.2" width="5.9" height="11.3" fill="#d2b48c"/>
<rect x="493.3" y="473.2" width="5.9" height="11.3" fill="#d2b48c"/>
<rect x="80" y="484.5" width="5.9" height="11.3" fill="#d2b48c"/>
<rect x="85.9" y="484.5" width="5.9" height="11.3" fill="#d2b48c"/>
<rect x="91.81" y="484.5" width="5.9" height="11.3" fill="#d2b48c"/>
<rect x="97.71" y="484.5" width="5.9" height="11.3" fill="#d2b48c"/>
<rect x="103.62" y="484.5" width="5.9" height="11.3" fill="#d2b48c"/>
<rect x="109.52" y="484.5" width="5.9" height="11.3" fill="#d2b48c"/>
<rect x="115.43" y="484.5" width="5.9" height="11.3" fill="#d2b48c"/>
<rect x="121.33" y="484.5" width="5.9" height="11.3" fill="#ffe0ad"/>
<rect x="127.23" y="484.5" width="5.9" height="11.3" fill="#d2b48c"/>
<rect x="133.14" y="484.5" width="5.9" height="11.3" fill="#d2b48c"/>
<rect x="139.04" y="484.5" width="5.9" height="11.3" fill="#d2b48c"/>
<rect x="144.95" y="484.5" width="5.9" height="11.3" fill="#d2b48c"/>
<rect x="150.85" y="484.5" width="5.9" height="11.3" fill="#d2b48c"/>
<rect x="156.75" y="484.5" width="5.9" height="11.3" fill="#d2b48c"/>
<rect x="162.66" y="484.5" width="5.9" height="11.3" fill="#d2b48c"/>
<rect x="168.56" y="484.5" width="5.9" height="11.3" fill="#d2b48c"/>
<rect x="174.47" y="484.5" width="5.9" height="11.3" fill="#d2b48c"/>
<rect x="180.37" y="484.5" width="5.9" height="11.3" fill="#d2b48c"/>
<rect x="186.28" y="484.5" width="5.9" height="11.3" fill="#d2b48c"/>
<rect x="192.18" y="484.5" width="5.9" height="11.3" fill="#d2b48c"/>
<rect x="198.08" y="484.5" width="5.9" height="11.3" fill="#d2b48c"/>
<rect x="203.99" y="484.5" width="5.9" height="11.3" fill="#d2b48c"/>
<rect x="209.89" y="484.5" width="5.9" height="11.3" fill="#d2b48c"/>
<rect x="215.8" y="484.5" width="5.9" height="11.3" fill="#ffe0ad"/>
<rect x="221.7" y="484.5" width="5.9" height="11.3" fill="#d2b48c"/>
<rect x="227.61" y="484.5" width="5.9" height="11.3" fill="#d2b48c"/>
<rect x="233.51" y="484.5" width="5.9" height="11.3" fill="#d2b48c"/>
<rect x="239.41" y="484.5" width="5.9" height="11.3" fill="#d2b48c"/>
<rect x="245.32" y="484.5" width="5.9" height="11.3" fill="#d2b48c"/>
<rect x="251.22" y="484.5" width="5.9" height="11.3" fill="#d2b48c"/>
<rect x="257.13" y="484.5" width="5.9" height="11.3" fill="#d2b48c"/>
<rect x="263.03" y="484.5" width="5.9" height="11.3" fill="#d2b48c"/>
<rect x="268.94" y="484.5" width="5.9" height="11.3" fill="#d2b48c"/>
<rect x="274.84" y="484.5" width="5.9" height="11.3" fill="#d2b48c"/>
<rect x="280.74" y="484.5" width="5.9" height="11.3" fill="#d2b48c"/>
<rect x="286.65" y="484.5" width="5.9" height="11.3" fill="#d2b48c"/>
<rect x="292.55" y="484.5" width="5.9" height="11.3" fill="#d2b48c"/>
<rect x="298.46" y="484.5" width="5.9" height="11.3" fill="#d2b48c"/>
<rect x="304.36" y="484.5" width="5.9" height="11.3" fill="#d2b48c"/>
<rect x="310.26" y="484.5" width="5.9" height="11.3" fill="#d2b48c"/>
<rect x="316.17" y="484.5" width="5.9" height="11.3" fill="#d2b48c"/>
<rect x="322.07" y="484.5" width="5.9" height="11.3" fill="#d2b48c"/>
<rect x="327.98" y="484.5" width="5.9" height="11.3" fill="#d2b48c"/>
<rect x="333.88" y="484.5" width="5.9" height="11.3" fill="#d2b48c"/>
<rect x="339.79" y="484.5" width="5.9" height="11.3" fill="#d2b48c"/>
<rect x="345.69" y="484.5" width="5.9" height="11.3" fill="#d2b48c"/>
<rect x="351.59" y="484.5" width="5.9" height="11.3" fill="#d2b48c"/>
<rect x="357.5" y="484.5" width="5.9" height="11.3" fill="#d2b48c"/>
<rect x="363.4" y="484.5" width="5.9" height="11.3" fill="#d2b48c"/>
<rect x="369.31" y="484.5" width="5.9" height="11.3" fill="#d2b48c"/>
<rect x="375.21" y="484.5" width="5.9" height="11.3" fill="#d2b48c"/>
<rect x="381.12" y="484.5" width="5.9" height="11.3" fill="#d2b48c"/>
<rect x="387.02" y="484.5" width="5.9" height="11.3" fill="#d2b48c"/>
<rect x="392.92" y="484.5" width="5.9" height="11.3" fill="#d2b48c"/>
<rect x="398.83" y="484.5" width="5.9" height="11.3" fill="#d2b48c"/>
<rect x="404.73" y="484.5" width="5.9" height="11.3" fill="#d2b48c"/>
<rect x="410.64" y="484.5" width="5.9" height="11.3" fill="#d2b48c"/>
<rect x="416.54" y="484.5" width="5.9" height="11.3" fill="#8b4513"/>
<rect x="422.45" y="484.5" width="5.9" height="11.3" fill="#8b4513"/>
<rect x="428.35" y="484.5" width="5.9" height="11.3" fill="#8b4513"/>
<rect x="434.25" y="484.5" width="5.9" height="11.3" fill="#d2b48c"/>
<rect x="440.16" y="484.5" width="5.9" height="11.3" fill="#d2b48c"/>
<rect x="446.06" y="484.5" width="5.9" height="11.3" fill="#d2b48c"/>
<rect x="451.97" y="484.5" width="5.9" height="11.3" fill="#8b4513"/>
<rect x="457.87" y="484.5" width="5.9" height="11.3" fill="#8b4513"/>
<rect x="463.77" y="484.5" width="5.9" height="11.3" fill="#d2b48c"/>
<rect x="469.68" y="484.5" width="5.9" height="11.3" fill="#d2b48c"/>
<rect x="475.58" y="484.5" width="5.9" height="11.3" fill="#d2b48c"/>
<rect x="481.49" y="484.5" width="5.9" height="11.3" fill="#d2b48c"/>
<rect x="487.39" y="484.5" width="5.9" height="11.3" fill="#d2b48c"/>
<rect x="493.3" y="484.5" width="5.9" height="11.3" fill="#d2b48c"/>
<line x1="85.9" y1="425.3" x2="85.9" y2="436.7" stroke="#ffffff" stroke-width="0.35" stroke-opacity="0.22"/>
<line x1="85.9" y1="439.3" x2="85.9" y2="495.8" stroke="#ffffff" stroke-width="0.35" stroke-opacity="0.22"/>
<line x1="91.81" y1="425.3" x2="91.81" y2="436.7" stroke="#ffffff" stroke-width="0.35" stroke-opacity="0.22"/>
<line x1="91.81" y1="439.3" x2="91.81" y2="495.8" stroke="#ffffff" stroke-width="0.35" stroke-opacity="0.22"/>
<line x1="97.71" y1="425.3" x2="97.71" y2="436.7" stroke="#ffffff" stroke-width="0.35" stroke-opacity="0.22"/>
<line x1="97.71" y1="439.3" x2="97.71" y2="495.8" stroke="#ffffff" stroke-width="0.35" stroke-opacity="0.22"/>
<line x1="103.62" y1="425.3" x2="103.62" y2="436.7" stroke="#ffffff" stroke-width="0.35" stroke-opacity="0.22"/>
<line x1="103.62" y1="439.3" x2="103.62" y2="495.8" stroke="#ffffff" stroke-width="0.35" stroke-opacity="0.22"/>
<line x1="109.52" y1="425.3" x2="109.52" y2="436.7" stroke="#ffffff" stroke-width="0.35" stroke-opacity="0.22"/>
<line x1="109.52" y1="439.3" x2="109.52" y2="495.8" stroke="#ffffff" stroke-width="0.35" stroke-opacity="0.22"/>
<line x1="115.43" y1="425.3" x2="115.43" y2="436.7" stroke="#ffffff" stroke-width="0.35" stroke-opacity="0.22"/>
<line x1="115.43" y1="439.3" x2="115.43" y2="495.8" stroke="#ffffff" stroke-width="0.35" stroke-opacity="0.22"/>
<line x1="121.33" y1="425.3" x2="121.33" y2="436.7" stroke="#ffffff" stroke-width="0.35" stroke-opacity="0.22"/>
<line x1="121.33" y1="439.3" x2="121.33" y2="495.8" stroke="#ffffff" stroke-width="0.35" stroke-opacity="0.22"/>
<line x1="127.23" y1="425.3" x2="127.23" y2="436.7" stroke="#ffffff" stroke-width="0.35" stroke-opacity="0.22"/>
<line x1="127.23" y1="439.3" x2="127.23" y2="495.8" stroke="#ffffff" stroke-width="0.35" stroke-opacity="0.22"/>
<line x1="133.14" y1="425.3" x2="133.14" y2="436.7" stroke="#ffffff" stroke-width="0.35" stroke-opacity="0.22"/>
<line x1="133.14" y1="439.3" x2="133.14" y2="495.8" stroke="#ffffff" stroke-width="0.35" stroke-opacity="0.22"/>
<line x1="139.04" y1="425.3" x2="139.04" y2="436.7" stroke="#ffffff" stroke-width="0.35" stroke-opacity="0.22"/>
<line x1="139.04" y1="439.3" x2="139.04" y2="495.8" stroke="#ffffff" stroke-width="0.35" stroke-opacity="0.22"/>
<line x1="144.95" y1="425.3" x2="144.95" y2="436.7" stroke="#ffffff" stroke-width="0.35" stroke-opacity="0.22"/>
<line x1="144.95" y1="439.3" x2="144.95" y2="495.8" stroke="#ffffff" stroke-width="0.35" stroke-opacity="0.22"/>
<line x1="150.85" y1="425.3" x2="150.85" y2="436.7" stroke="#ffffff" stroke-width="0.35" stroke-opacity="0.22"/>
<line x1="150.85" y1="439.3" x2="150.85" y2="495.8" stroke="#ffffff" stroke-width="0.35" stroke-opacity="0.22"/>
<line x1="156.75" y1="425.3" x2="156.75" y2="436.7" stroke="#ffffff" stroke-width="0.35" stroke-opacity="0.22"/>
<line x1="156.75" y1="439.3" x2="156.75" y2="495.8" stroke="#ffffff" stroke-width="0.35" stroke-opacity="0.22"/>
<line x1="162.66" y1="425.3" x2="162.66" y2="436.7" stroke="#ffffff" stroke-width="0.35" stroke-opacity="0.22"/>
<line x1="162.66" y1="439.3" x2="162.66" y2="495.8" stroke="#ffffff" stroke-width="0.35" stroke-opacity="0.22"/>
<line x1="168.56" y1="425.3" x2="168.56" y2="436.7" stroke="#ffffff" stroke-width="0.35" stroke-opacity="0.22"/>
<line x1="168.56" y1="439.3" x2="168.56" y2="495.8" stroke="#ffffff" stroke-width="0.35" stroke-opacity="0.22"/>
<line x1="174.47" y1="425.3" x2="174.47" y2="436.7" stroke="#ffffff" stroke-width="0.35" stroke-opacity="0.22"/>
<line x1="174.47" y1="439.3" x2="174.47" y2="495.8" stroke="#ffffff" stroke-width="0.35" stroke-opacity="0.22"/>
<line x1="180.37" y1="425.3" x2="180.37" y2="436.7" stroke="#ffffff" stroke-width="0.35" stroke-opacity="0.22"/>
<line x1="180.37" y1="439.3" x2="180.37" y2="495.8" stroke="#ffffff" stroke-width="0.35" stroke-opacity="0.22"/>
<line x1="186.28" y1="425.3" x2="186.28" y2="436.7" stroke="#ffffff" stroke-width="0.35" stroke-opacity="0.22"/>
<line x1="186.28" y1="439.3" x2="186.28" y2="495.8" stroke="#ffffff" stroke-width="0.35" stroke-opacity="0.22"/>
<line x1="192.18" y1="425.3" x2="192.18" y2="436.7" stroke="#ffffff" stroke-width="0.35" stroke-opacity="0.22"/>
<line x1="192.18" y1="439.3" x2="192.18" y2="495.8" stroke="#ffffff" stroke-width="0.35" stroke-opacity="0.22"/>
<line x1="198.08" y1="425.3" x2="198.08" y2="436.7" stroke="#ffffff" stroke-width="0.35" stroke-opacity="0.22"/>
<line x1="198.08" y1="439.3" x2="198.08" y2="495.8" stroke="#ffffff" stroke-width="0.35" stroke-opacity="0.22"/>
<line x1="203.99" y1="425.3" x2="203.99" y2="436.7" stroke="#ffffff" stroke-width="0.35" stroke-opacity="0.22"/>
<line x1="203.99" y1="439.3" x2="203.99" y2="495.8" stroke="#ffffff" stroke-width="0.35" stroke-opacity="0.22"/>
<line x1="209.89" y1="425.3" x2="209.89" y2="436.7" stroke="#ffffff" stroke-width="0.35" stroke-opacity="0.22"/>
<line x1="209.89" y1="439.3" x2="209.89" y2="495.8" stroke="#ffffff" stroke-width="0.35" stroke-opacity="0.22"/>
<line x1="215.8" y1="425.3" x2="215.8" y2="436.7" stroke="#ffffff" stroke-width="0.35" stroke-opacity="0.22"/>
<line x1="215.8" y1="439.3" x2="215.8" y2="495.8" stroke="#ffffff" stroke-width="0.35" stroke-opacity="0.22"/>
<line x1="221.7" y1="425.3" x2="221.7" y2="436.7" stroke="#ffffff" stroke-width="0.35" stroke-opacity="0.22"/>
<line x1="221.7" y1="439.3" x2="221.7" y2="495.8" stroke="#ffffff" stroke-width="0.35" stroke-opacity="0.22"/>
<line x1="227.61" y1="425.3" x2="227.61" y2="436.7" stroke="#ffffff" stroke-width="0.35" stroke-opacity="0.22"/>
<line x1="227.61" y1="439.3" x2="227.61" y2="495.8" stroke="#ffffff" stroke-width="0.35" stroke-opacity="0.22"/>
<line x1="233.51" y1="425.3" x2="233.51" y2="436.7" stroke="#ffffff" stroke-width="0.35" stroke-opacity="0.22"/>
<line x1="233.51" y1="439.3" x2="233.51" y2="495.8" stroke="#ffffff" stroke-width="0.35" stroke-opacity="0.22"/>
<line x1="239.41" y1="425.3" x2="239.41" y2="436.7" stroke="#ffffff" stroke-width="0.35" stroke-opacity="0.22"/>
<line x1="239.41" y1="439.3" x2="239.41" y2="495.8" stroke="#ffffff" stroke-width="0.35" stroke-opacity="0.22"/>
<line x1="245.32" y1="425.3" x2="245.32" y2="436.7" stroke="#ffffff" stroke-width="0.35" stroke-opacity="0.22"/>
<line x1="245.32" y1="439.3" x2="245.32" y2="495.8" stroke="#ffffff" stroke-width="0.35" stroke-opacity="0.22"/>
<line x1="251.22" y1="425.3" x2="251.22" y2="436.7" stroke="#ffffff" stroke-width="0.35" stroke-opacity="0.22"/>
<line x1="251.22" y1="439.3" x2="251.22" y2="495.8" stroke="#ffffff" stroke-width="0.35" stroke-opacity="0.22"/>
<line x1="257.13" y1="425.3" x2="257.13" y2="436.7" stroke="#ffffff" stroke-width="0.35" stroke-opacity="0.22"/>
<line x1="257.13" y1="439.3" x2="257.13" y2="495.8" stroke="#ffffff" stroke-width="0.35" stroke-opacity="0.22"/>
<line x1="263.03" y1="425.3" x2="263.03" y2="436.7" stroke="#ffffff" stroke-width="0.35" stroke-opacity="0.22"/>
<line x1="263.03" y1="439.3" x2="263.03" y2="495.8" stroke="#ffffff" stroke-width="0.35" stroke-opacity="0.22"/>
<line x1="268.94" y1="425.3" x2="268.94" y2="436.7" stroke="#ffffff" stroke-width="0.35" stroke-opacity="0.22"/>
<line x1="268.94" y1="439.3" x2="268.94" y2="495.8" stroke="#ffffff" stroke-width="0.35" stroke-opacity="0.22"/>
<line x1="274.84" y1="425.3" x2="274.84" y2="436.7" stroke="#ffffff" stroke-width="0.35" stroke-opacity="0.22"/>
<line x1="274.84" y1="439.3" x2="274.84" y2="495.8" stroke="#ffffff" stroke-width="0.35" stroke-opacity="0.22"/>
<line x1="280.74" y1="425.3" x2="280.74" y2="436.7" stroke="#ffffff" stroke-width="0.35" stroke-opacity="0.22"/>
<line x1="280.74" y1="439.3" x2="280.74" y2="495.8" stroke="#ffffff" stroke-width="0.35" stroke-opacity="0.22"/>
<line x1="286.65" y1="425.3" x2="286.65" y2="436.7" stroke="#ffffff" stroke-width="0.35" stroke-opacity="0.22"/>
<line x1="286.65" y1="439.3" x2="286.65" y2="495.8" stroke="#ffffff" stroke-width="0.35" stroke-opacity="0.22"/>
<line x1="292.55" y1="425.3" x2="292.55" y2="436.7" stroke="#ffffff" stroke-width="0.35" stroke-opacity="0.22"/>
<line x1="292.55" y1="439.3" x2="292.55" y2="495.8" stroke="#ffffff" stroke-width="0.35" stroke-opacity="0.22"/>
<line x1="298.46" y1="425.3" x2="298.46" y2="436.7" stroke="#ffffff" stroke-width="0.35" stroke-opacity="0.22"/>
<line x1="298.46" y1="439.3" x2="298.46" y2="495.8" stroke="#ffffff" stroke-width="0.35" stroke-opacity="0.22"/>
<line x1="304.36" y1="425.3" x2="304.36" y2="436.7" stroke="#ffffff" stroke-width="0.35" stroke-opacity="0.22"/>
<line x1="304.36" y1="439.3" x2="304.36" y2="495.8" stroke="#ffffff" stroke-width="0.35" stroke-opacity="0.22"/>
<line x1="310.26" y1="425.3" x2="310.26" y2="436.7" stroke="#ffffff" stroke-width="0.35" stroke-opacity="0.22"/>
<line x1="310.26" y1="439.3" x2="310.26" y2="495.8" stroke="#ffffff" stroke-width="0.35" stroke-opacity="0.22"/>
<line x1="316.17" y1="425.3" x2="316.17" y2="436.7" stroke="#ffffff" stroke-width="0.35" stroke-opacity="0.22"/>
<line x1="316.17" y1="439.3" x2="316.17" y2="495.8" stroke="#ffffff" stroke-width="0.35" stroke-opacity="0.22"/>
<line x1="322.07" y1="425.3" x2="322.07" y2="436.7" stroke="#ffffff" stroke-width="0.35" stroke-opacity="0.22"/>
<line x1="322.07" y1="439.3" x2="322.07" y2="495.8" stroke="#ffffff" stroke-width="0.35" stroke-opacity="0.22"/>
<line x1="327.98" y1="425.3" x2="327.98" y2="436.7" stroke="#ffffff" stroke-width="0.35" stroke-opacity="0.22"/>
<line x1="327.98" y1="439.3" x2="327.98" y2="495.8" stroke="#ffffff" stroke-width="0.35" stroke-opacity="0.22"/>
<line x1="333.88" y1="425.3" x2="333.88" y2="436.7" stroke="#ffffff" stroke-width="0.35" stroke-opacity="0.22"/>
<line x1="333.88" y1="439.3" x2="333.88" y2="495.8" stroke="#ffffff" stroke-width="0.35" stroke-opacity="0.22"/>
<line x1="339.79" y1="425.3" x2="339.79" y2="436.7" stroke="#ffffff" stroke-width="0.35" stroke-opacity="0.22"/>
<line x1="339.79" y1="439.3" x2="339.79" y2="495.8" stroke="#ffffff" stroke-width="0.35" stroke-opacity="0.22"/>
<line x1="345.69" y1="425.3" x2="345.69" y2="436.7" stroke="#ffffff" stroke-width="0.35" stroke-opacity="0.22"/>
<line x1="345.69" y1="439.3" x2="345.69" y2="495.8" stroke="#ffffff" stroke-width="0.35" stroke-opacity="0.22"/>
<line x1="351.59" y1="425.3" x2="351.59" y2="436.7" stroke="#ffffff" stroke-width="0.35" stroke-opacity="0.22"/>
<line x1="351.59" y1="439.3" x2="351.59" y2="495.8" stroke="#ffffff" stroke-width="0.35" stroke-opacity="0.22"/>
<line x1="357.5" y1="425.3" x2="357.5" y2="436.7" stroke="#ffffff" stroke-width="0.35" stroke-opacity="0.22"/>
<line x1="357.5" y1="439.3" x2="357.5" y2="495.8" stroke="#ffffff" stroke-width="0.35" stroke-opacity="0.22"/>
<line x1="363.4" y1="425.3" x2="363.4" y2="436.7" stroke="#ffffff" stroke-width="0.35" stroke-opacity="0.22"/>
<line x1="363.4" y1="439.3" x2="363.4" y2="495.8" stroke="#ffffff" stroke-width="0.35" stroke-opacity="0.22"/>
<line x1="369.31" y1="425.3" x2="369.31" y2="436.7" stroke="#ffffff" stroke-width="0.35" stroke-opacity="0.22"/>
<line x1="369.31" y1="439.3" x2="369.31" y2="495.8" stroke="#ffffff" stroke-width="0.35" stroke-opacity="0.22"/>
<line x1="375.21" y1="425.3" x2="375.21" y2="436.7" stroke="#ffffff" stroke-width="0.35" stroke-opacity="0.22"/>
<line x1="375.21" y1="439.3" x2="375.21" y2="495.8" stroke="#ffffff" stroke-width="0.35" stroke-opacity="0.22"/>
<line x1="381.12" y1="425.3" x2="381.12" y2="436.7" stroke="#ffffff" stroke-width="0.35" stroke-opacity="0.22"/>
<line x1="381.12" y1="439.3" x2="381.12" y2="495.8" stroke="#ffffff" stroke-width="0.35" stroke-opacity="0.22"/>
<line x1="387.02" y1="425.3" x2="387.02" y2="436.7" stroke="#ffffff" stroke-width="0.35" stroke-opacity="0.22"/>
<line x1="387.02" y1="439.3" x2="387.02" y2="495.8" stroke="#ffffff" stroke-width="0.35" stroke-opacity="0.22"/>
<line x1="392.92" y1="425.3" x2="392.92" y2="436.7" stroke="#ffffff" stroke-width="0.35" stroke-opacity="0.22"/>
<line x1="392.92" y1="439.3" x2="392.92" y2="495.8" stroke="#ffffff" stroke-width="0.35" stroke-opacity="0.22"/>
<line x1="398.83" y1="425.3" x2="398.83" y2="436.7" stroke="#ffffff" stroke-width="0.35" stroke-opacity="0.22"/>
<line x1="398.83" y1="439.3" x2="398.83" y2="495.8" stroke="#ffffff" stroke-width="0.35" stroke-opacity="0.22"/>
<line x1="404.73" y1="425.3" x2="404.73" y2="436.7" stroke="#ffffff" stroke-width="0.35" stroke-opacity="0.22"/>
<line x1="404.73" y1="439.3" x2="404.73" y2="495.8" stroke="#ffffff" stroke-width="0.35" stroke-opacity="0.22"/>
<line x1="410.64" y1="425.3" x2="410.64" y2="436.7" stroke="#ffffff" stroke-width="0.35" stroke-opacity="0.22"/>
<line x1="410.64" y1="439.3" x2="410.64" y2="495.8" stroke="#ffffff" stroke-width="0.35" stroke-opacity="0.22"/>
<line x1="416.54" y1="425.3" x2="416.54" y2="436.7" stroke="#ffffff" stroke-width="0.35" stroke-opacity="0.22"/>
<line x1="416.54" y1="439.3" x2="416.54" y2="495.8" stroke="#ffffff" stroke-width="0.35" stroke-opacity="0.22"/>
<line x1="422.45" y1="425.3" x2="422.45" y2="436.7" stroke="#ffffff" stroke-width="0.35" stroke-opacity="0.22"/>
<line x1="422.45" y1="439.3" x2="422.45" y2="495.8" stroke="#ffffff" stroke-width="0.35" stroke-opacity="0.22"/>
<line x1="428.35" y1="425.3" x2="428.35" y2="436.7" stroke="#ffffff" stroke-width="0.35" stroke-opacity="0.22"/>
<line x1="428.35" y1="439.3" x2="428.35" y2="495.8" stroke="#ffffff" stroke-width="0.35" stroke-opacity="0.22"/>
<line x1="434.25" y1="425.3" x2="434.25" y2="436.7" stroke="#ffffff" stroke-width="0.35" stroke-opacity="0.22"/>
<line x1="434.25" y1="439.3" x2="434.25" y2="495.8" stroke="#ffffff" stroke-width="0.35" stroke-opacity="0.22"/>
<line x1="440.16" y1="425.3" x2="440.16" y2="436.7" stroke="#ffffff" stroke-width="0.35" stroke-opacity="0.22"/>
<line x1="440.16" y1="439.3" x2="440.16" y2="495.8" stroke="#ffffff" stroke-width="0.35" stroke-opacity="0.22"/>
<line x1="446.06" y1="425.3" x2="446.06" y2="436.7" stroke="#ffffff" stroke-width="0.35" stroke-opacity="0.22"/>
<line x1="446.06" y1="439.3" x2="446.06" y2="495.8" stroke="#ffffff" stroke-width="0.35" stroke-opacity="0.22"/>
<line x1="451.97" y1="425.3" x2="451.97" y2="436.7" stroke="#ffffff" stroke-width="0.35" stroke-opacity="0.22"/>
<line x1="451.97" y1="439.3" x2="451.97" y2="495.8" stroke="#ffffff" stroke-width="0.35" stroke-opacity="0.22"/>
<line x1="457.87" y1="425.3" x2="457.87" y2="436.7" stroke="#ffffff" stroke-width="0.35" stroke-opacity="0.22"/>
<line x1="457.87" y1="439.3" x2="457.87" y2="495.8" stroke="#ffffff" stroke-width="0.35" stroke-opacity="0.22"/>
<line x1="463.77" y1="425.3" x2="463.77" y2="436.7" stroke="#ffffff" stroke-width="0.35" stroke-opacity="0.22"/>
<line x1="463.77" y1="439.3" x2="463.77" y2="495.8" stroke="#ffffff" stroke-width="0.35" stroke-opacity="0.22"/>
<line x1="469.68" y1="425.3" x2="469.68" y2="436.7" stroke="#ffffff" stroke-width="0.35" stroke-opacity="0.22"/>
<line x1="469.68" y1="439.3" x2="469.68" y2="495.8" stroke="#ffffff" stroke-width="0.35" stroke-opacity="0.22"/>
<line x1="475.58" y1="425.3" x2="475.58" y2="436.7" stroke="#ffffff" stroke-width="0.35" stroke-opacity="0.22"/>
<line x1="475.58" y1="439.3" x2="475.58" y2="495.8" stroke="#ffffff" stroke-width="0.35" stroke-opacity="0.22"/>
<line x1="481.49" y1="425.3" x2="481.49" y2="436.7" stroke="#ffffff" stroke-width="0.35" stroke-opacity="0.22"/>
<line x1="481.49" y1="439.3" x2="481.49" y2="495.8" stroke="#ffffff" stroke-width="0.35" stroke-opacity="0.22"/>
<line x1="487.39" y1="425.3" x2="487.39" y2="436.7" stroke="#ffffff" stroke-width="0.35" stroke-opacity="0.22"/>
<line x1="487.39" y1="439.3" x2="487.39" y2="495.8" stroke="#ffffff" stroke-width="0.35" stroke-opacity="0.22"/>
<line x1="493.3" y1="425.3" x2="493.3" y2="436.7" stroke="#ffffff" stroke-width="0.35" stroke-opacity="0.22"/>
<line x1="493.3" y1="439.3" x2="493.3" y2="495.8" stroke="#ffffff" stroke-width="0.35" stroke-opacity="0.22"/>
<line x1="80" y1="450.6" x2="499.2" y2="450.6" stroke="#ffffff" stroke-width="0.35" stroke-opacity="0.22"/>
<line x1="80" y1="461.9" x2="499.2" y2="461.9" stroke="#ffffff" stroke-width="0.35" stroke-opacity="0.22"/>
<line x1="80" y1="473.2" x2="499.2" y2="473.2" stroke="#ffffff" stroke-width="0.35" stroke-opacity="0.22"/>
<line x1="80" y1="484.5" x2="499.2" y2="484.5" stroke="#ffffff" stroke-width="0.35" stroke-opacity="0.22"/>
<text x="76.8" y="432.5" font-size="6.6" text-anchor="end" textLength="58" lengthAdjust="spacingAndGlyphs" stroke="#231f20" stroke-width="0.06">Histologic diagnosis</text>
<text x="76.8" y="446.7" font-size="6.6" text-anchor="end" textLength="40" lengthAdjust="spacingAndGlyphs" stroke="#231f20" stroke-width="0.06">MYD88 L265P</text>
<text x="76.8" y="458" font-size="6.6" text-anchor="end" textLength="56.5" lengthAdjust="spacingAndGlyphs" stroke="#231f20" stroke-width="0.06">TERT C228T/C250T</text>
<text x="76.8" y="469.3" font-size="6.6" text-anchor="end" textLength="19.5" lengthAdjust="spacingAndGlyphs" font-style="italic" stroke="#231f20" stroke-width="0.06">IDH1/2</text>
<text x="76.8" y="480.6" font-size="6.6" text-anchor="end" textLength="38" lengthAdjust="spacingAndGlyphs" stroke="#231f20" stroke-width="0.06">H3F3A K27M</text>
<text x="76.8" y="491.9" font-size="6.6" text-anchor="end" textLength="42.5" lengthAdjust="spacingAndGlyphs" stroke="#231f20" stroke-width="0.06">BRAF V600E/K</text>
<text x="106.9" y="504.4" font-size="5.5" textLength="49.9" lengthAdjust="spacingAndGlyphs" stroke="#231f20" stroke-width="0.1">Histologic diagnosis:</text>
<rect x="106.9" y="509" width="4" height="4" fill="#dda0dd"/>
<text x="114.2" y="512.7" font-size="5.5" textLength="31.9" lengthAdjust="spacingAndGlyphs" stroke="#231f20" stroke-width="0.1">Waldenström</text>
<rect x="106.9" y="516.65" width="4" height="4" fill="#9400d3"/>
<text x="114.2" y="520.35" font-size="5.5" textLength="16.4" lengthAdjust="spacingAndGlyphs" stroke="#231f20" stroke-width="0.1">PCNSL</text>
<rect x="106.9" y="524.3" width="4" height="4" fill="#9acd32"/>
<text x="114.2" y="528" font-size="5.5" textLength="45.8" lengthAdjust="spacingAndGlyphs" stroke="#231f20" stroke-width="0.1">High-grade glioma</text>
<rect x="106.9" y="531.95" width="4" height="4" fill="#a01c2c"/>
<text x="114.2" y="535.65" font-size="5.5" textLength="56.6" lengthAdjust="spacingAndGlyphs" stroke="#231f20" stroke-width="0.1">Other hem. malignancy</text>
<rect x="185.1" y="509" width="4" height="4" fill="#fa8072"/>
<text x="192" y="512.7" font-size="5.5" textLength="44.5" lengthAdjust="spacingAndGlyphs" stroke="#231f20" stroke-width="0.1">Thyroid carcinoma</text>
<rect x="185.1" y="516.65" width="4" height="4" fill="#ffa500"/>
<text x="192" y="520.35" font-size="5.5" textLength="25" lengthAdjust="spacingAndGlyphs" stroke="#231f20" stroke-width="0.1">Melanoma</text>
<rect x="185.1" y="524.3" width="4" height="4" fill="#bdb76b"/>
<text x="192" y="528" font-size="5.5" textLength="51.5" lengthAdjust="spacingAndGlyphs" stroke="#231f20" stroke-width="0.1">Metastatic carcinoma</text>
<rect x="185.1" y="531.95" width="4" height="4" fill="#008b8b"/>
<text x="192" y="535.65" font-size="5.5" textLength="43" lengthAdjust="spacingAndGlyphs" stroke="#231f20" stroke-width="0.1">Low-grade glioma</text>
<rect x="263.5" y="509" width="4" height="4" fill="#a9a9a9"/>
<text x="270" y="512.7" font-size="5.5" textLength="50.6" lengthAdjust="spacingAndGlyphs" stroke="#231f20" stroke-width="0.1">Inflammatory disease</text>
<rect x="263.5" y="516.65" width="4" height="4" fill="#1e88d8"/>
<text x="270" y="520.35" font-size="5.5" textLength="30" lengthAdjust="spacingAndGlyphs" stroke="#231f20" stroke-width="0.1">Inconclusive</text>
<text x="348.7" y="504.4" font-size="5.5" textLength="43.5" lengthAdjust="spacingAndGlyphs" stroke="#231f20" stroke-width="0.1">Rapid genotyping:</text>
<rect x="349.1" y="509" width="4.2" height="4" fill="#8b4513"/>
<text x="355.8" y="512.6" font-size="5.5" textLength="45.4" lengthAdjust="spacingAndGlyphs" stroke="#231f20" stroke-width="0.1">Mutation detected</text>
<rect x="349.1" y="516.6" width="4.2" height="4" fill="#d2b48c"/>
<text x="355.8" y="520.2" font-size="5.5" textLength="55.1" lengthAdjust="spacingAndGlyphs" stroke="#231f20" stroke-width="0.1">Mutation not detected</text>
<rect x="349.1" y="524.2" width="4.2" height="4" fill="#ffe0ad"/>
<text x="355.8" y="527.8" font-size="5.5" textLength="36.7" lengthAdjust="spacingAndGlyphs" stroke="#231f20" stroke-width="0.1">Not performed</text>
</svg>
</body></html>
